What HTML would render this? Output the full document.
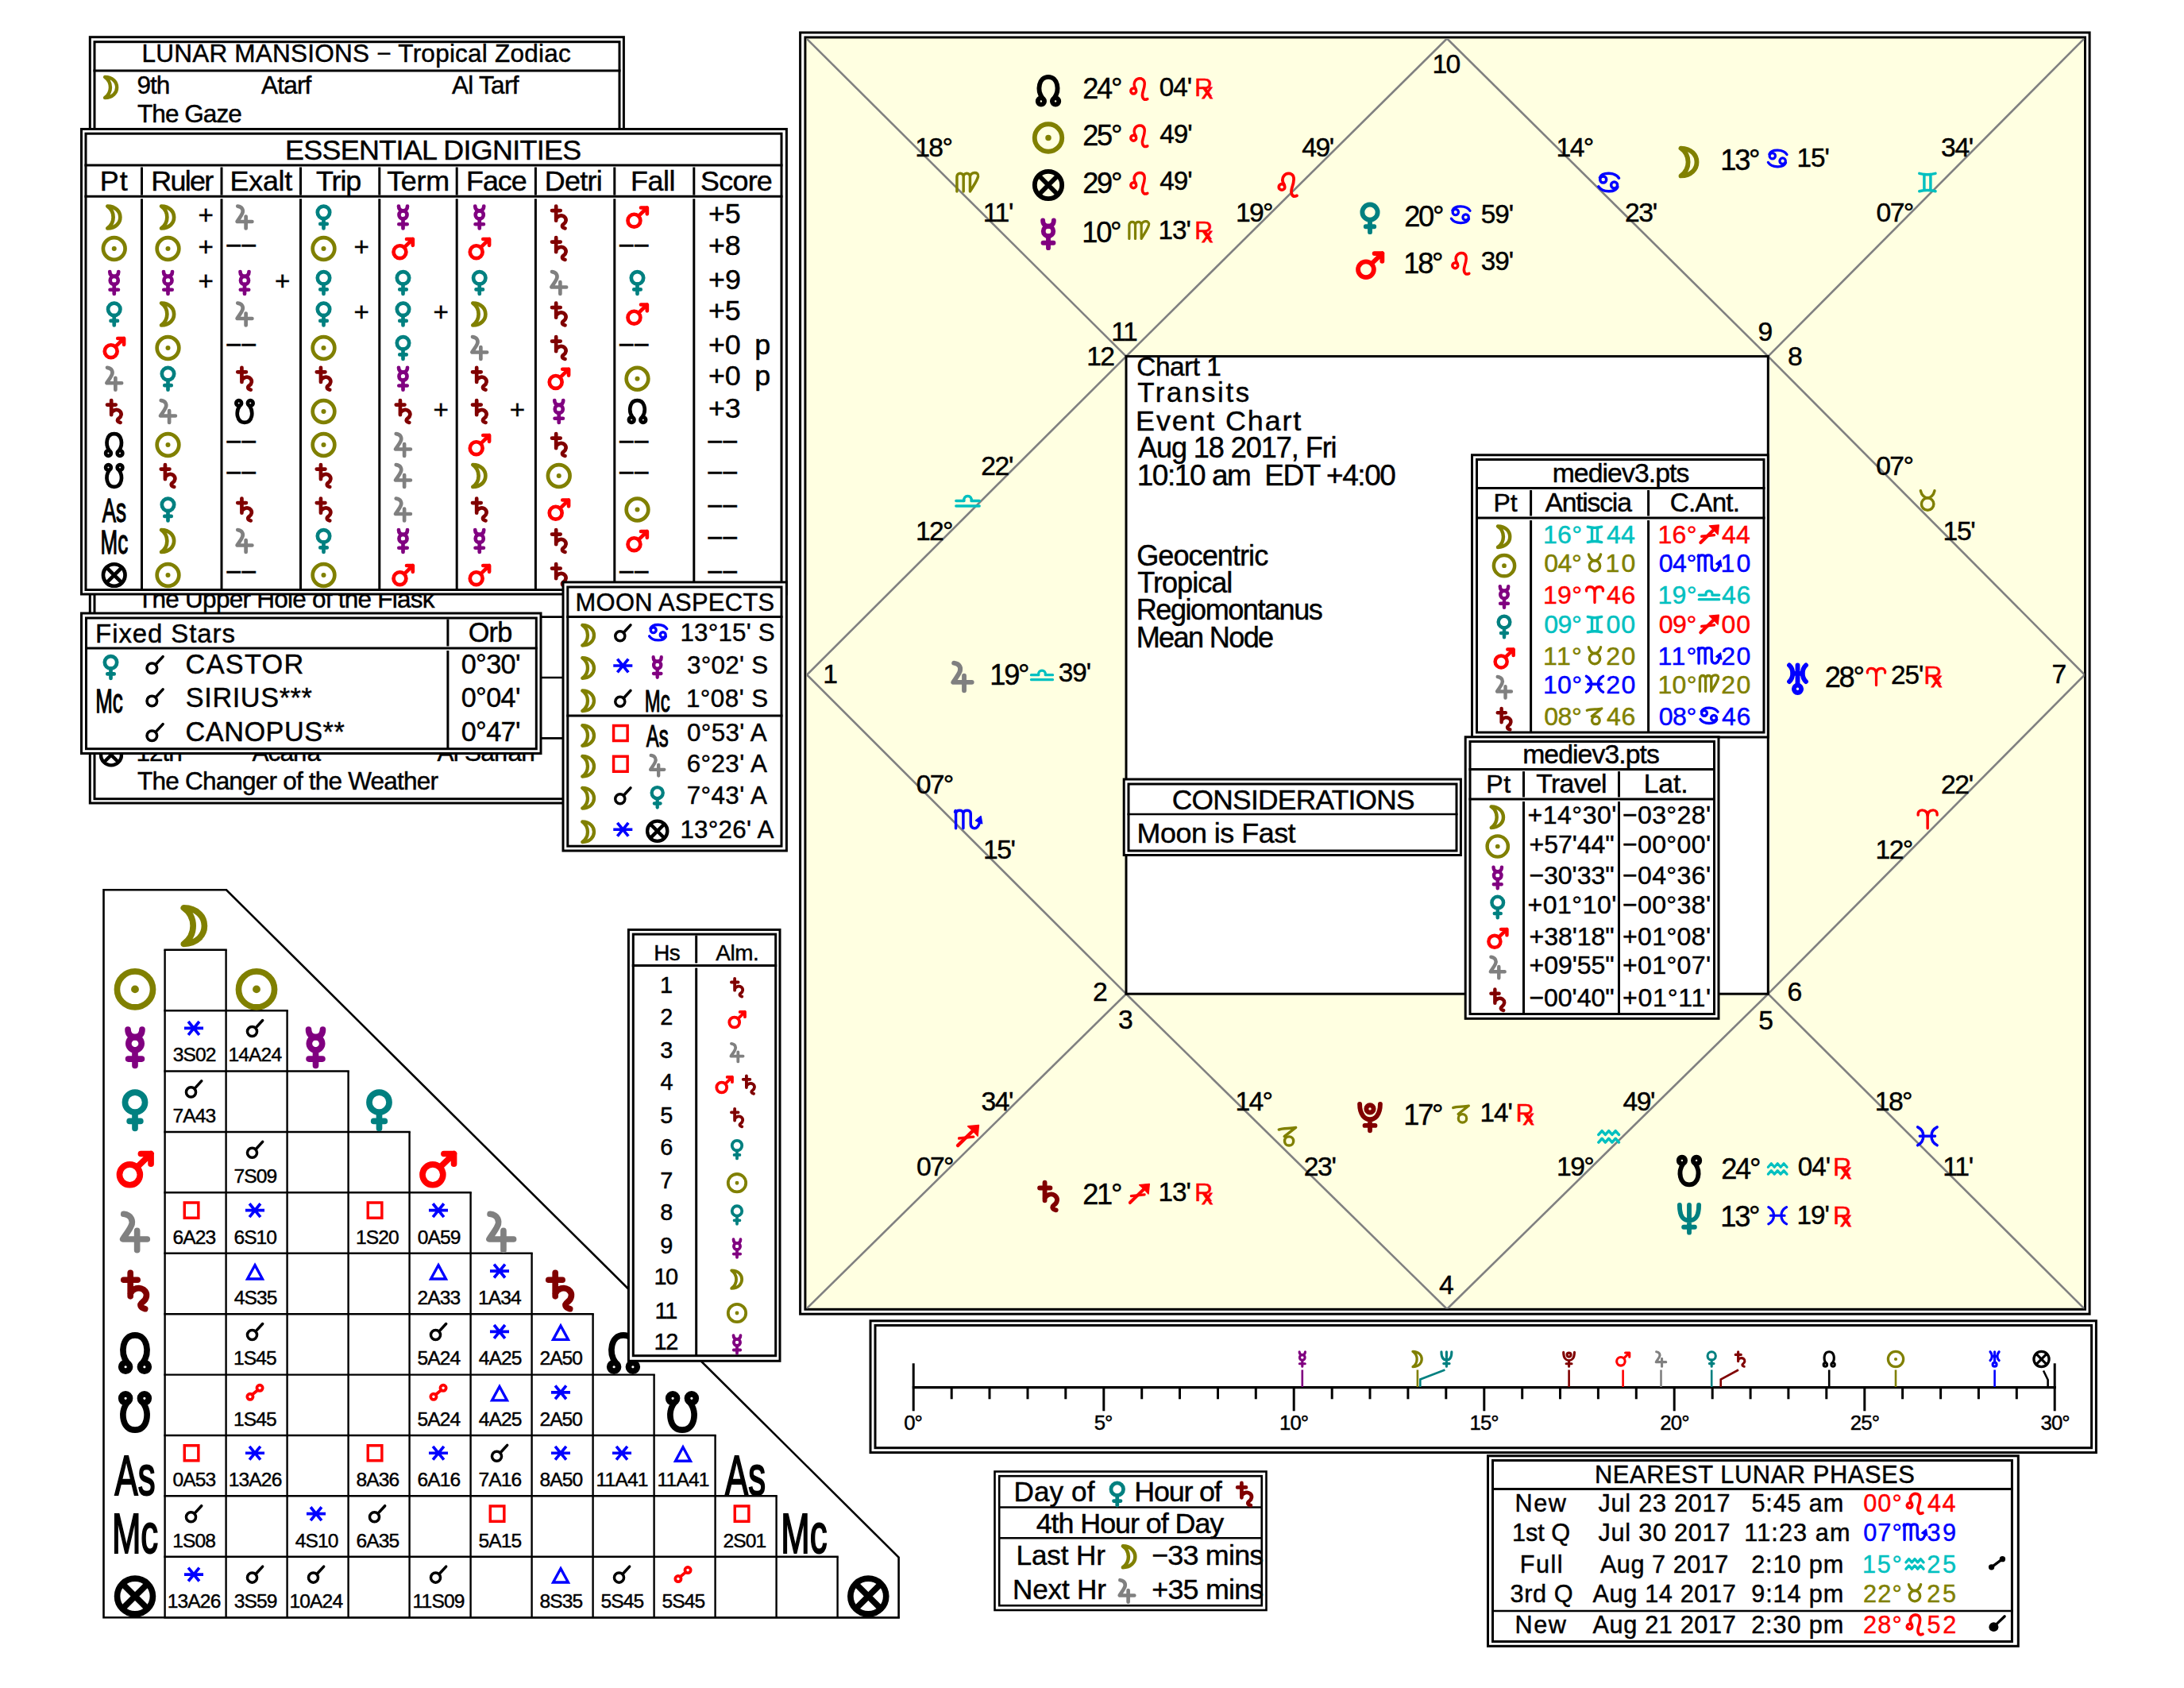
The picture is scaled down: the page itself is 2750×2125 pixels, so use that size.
<!DOCTYPE html>
<html><head><meta charset="utf-8"><title>Chart</title>
<style>html,body{margin:0;padding:0;background:#fff}svg{display:block}text{font-family:"Liberation Sans",Arial,Helvetica,sans-serif;white-space:pre}</style>
</head><body>
<svg xmlns="http://www.w3.org/2000/svg" width="2750" height="2125" viewBox="0 0 2750 2125">
<rect width="2750" height="2125" fill="#fff"/>
<rect x="1007.6" y="41.0" width="1623.5" height="1613.2" fill="#fff" stroke="#000" stroke-width="3"/><rect x="1013.9" y="47.0" width="1611.6" height="1601.3" fill="#ffffe1" stroke="#000" stroke-width="3"/><clipPath id="chartclip"><rect x="1015.4" y="48.5" width="1609.1" height="1599"/></clipPath><g clip-path="url(#chartclip)"><line x1="1015.5" y1="48.5" x2="1418.0" y2="448.6" stroke="#808080" stroke-width="2.6"/><line x1="2624.5" y1="48.5" x2="2226.3" y2="448.6" stroke="#808080" stroke-width="2.6"/><line x1="2624.5" y1="1647.5" x2="2226.3" y2="1251.2" stroke="#808080" stroke-width="2.6"/><line x1="1015.5" y1="1647.5" x2="1418.0" y2="1251.2" stroke="#808080" stroke-width="2.6"/><line x1="1822.0" y1="48.5" x2="1418.0" y2="448.6" stroke="#808080" stroke-width="2.6"/><line x1="1822.0" y1="48.5" x2="2226.3" y2="448.6" stroke="#808080" stroke-width="2.6"/><line x1="2625.0" y1="849.5" x2="2226.3" y2="448.6" stroke="#808080" stroke-width="2.6"/><line x1="2625.0" y1="849.5" x2="2226.3" y2="1251.2" stroke="#808080" stroke-width="2.6"/><line x1="1822.0" y1="1648.0" x2="2226.3" y2="1251.2" stroke="#808080" stroke-width="2.6"/><line x1="1822.0" y1="1648.0" x2="1418.0" y2="1251.2" stroke="#808080" stroke-width="2.6"/><line x1="1016.0" y1="849.5" x2="1418.0" y2="1251.2" stroke="#808080" stroke-width="2.6"/><line x1="1016.0" y1="849.5" x2="1418.0" y2="448.6" stroke="#808080" stroke-width="2.6"/></g><rect x="1418.0" y="448.6" width="808.3" height="802.6" fill="#fff" stroke="#000" stroke-width="3"/><g transform="translate(1218.25 229.55) scale(0.2667)"><path d="M-50 43V-26C-50 -48 -19 -48 -19 -26V43M-19 -26C-19 -48 12 -48 12 -26V43M12 -26C14 -50 54 -52 50 -28C46 -8 28 16 14 40" fill="none" stroke="#808000" stroke-width="13" stroke-linecap="round" stroke-linejoin="round"/></g><text x="1152.2" y="197.2" font-size="33.7" stroke="#000" stroke-width="0.45" letter-spacing="-1.62">18°</text><text x="1237.7" y="279.1" font-size="33.7" stroke="#000" stroke-width="0.45" letter-spacing="-1.30">11'</text><g transform="translate(1621.50 231.35) scale(0.2880)"><path d="M-39.0 14.0a13.0 13.0 0 1 0 26.0 0a13.0 13.0 0 1 0 -26.0 0Z" fill="none" stroke="#ff0000" stroke-width="13" stroke-linecap="round" stroke-linejoin="round"/><path d="M-15 5C-36 -28 -10 -50 12 -44C34 -37 26 -5 19 16C11 40 18 62 40 52" fill="none" stroke="#ff0000" stroke-width="13" stroke-linecap="round" stroke-linejoin="round"/></g><text x="1639.3" y="197.2" font-size="33.7" stroke="#000" stroke-width="0.45" letter-spacing="-1.45">49'</text><text x="1555.9" y="279.1" font-size="33.7" stroke="#000" stroke-width="0.45" letter-spacing="-1.62">19°</text><g transform="translate(2025.65 229.55) scale(0.2667)"><path d="M-41.0 -13.0a15.0 15.0 0 1 0 30.0 0a15.0 15.0 0 1 0 -30.0 0Z" fill="none" stroke="#0000ff" stroke-width="13" stroke-linecap="round" stroke-linejoin="round"/><path d="M11.0 13.0a15.0 15.0 0 1 0 30.0 0a15.0 15.0 0 1 0 -30.0 0Z" fill="none" stroke="#0000ff" stroke-width="13" stroke-linecap="round" stroke-linejoin="round"/><path d="M-42 -22C-30 -50 30 -48 48 -20M42 22C30 50 -30 48 -48 20" fill="none" stroke="#0000ff" stroke-width="13" stroke-linecap="round" stroke-linejoin="round"/></g><text x="1959.6" y="197.2" font-size="33.7" stroke="#000" stroke-width="0.45" letter-spacing="-1.62">14°</text><text x="2046.0" y="279.1" font-size="33.7" stroke="#000" stroke-width="0.45" letter-spacing="-1.42">23'</text><g transform="translate(2426.90 229.55) scale(0.2667)"><path d="M-38 -42C-15 -36 15 -36 38 -42M-38 42C-15 36 15 36 38 42M-15 -38V38M15 -38V38" fill="none" stroke="#00c0c0" stroke-width="13" stroke-linecap="round" stroke-linejoin="round"/></g><text x="2444.1" y="197.2" font-size="33.7" stroke="#000" stroke-width="0.45" letter-spacing="-1.43">34'</text><text x="2362.6" y="279.1" font-size="33.7" stroke="#000" stroke-width="0.45" letter-spacing="-1.67">07°</text><g transform="translate(1218.50 630.05) scale(0.2667)"><path d="M-55 26H55M-55 2H-17C-24 -28 24 -28 17 2H55" fill="none" stroke="#00c0c0" stroke-width="13" stroke-linecap="round" stroke-linejoin="round"/></g><text x="1235.3" y="597.6" font-size="33.7" stroke="#000" stroke-width="0.45" letter-spacing="-1.42">22'</text><text x="1152.9" y="679.6" font-size="33.7" stroke="#000" stroke-width="0.45" letter-spacing="-1.62">12°</text><g transform="translate(1218.50 1031.35) scale(0.2667)"><path d="M-60 -34C-58 -44 -56 -43 -56 -30V43M-56 -28C-54 -46 -21 -46 -21 -28V43M-21 -28C-19 -46 14 -46 14 -28V22C14 42 34 48 46 36C54 27 57 16 58 4" fill="none" stroke="#0000ff" stroke-width="13" stroke-linecap="round" stroke-linejoin="round"/><path d="M62 -14L38 6L68 20Z" fill="#0000ff" stroke="#0000ff" stroke-width="5.9" stroke-linejoin="round"/></g><text x="1153.7" y="998.9" font-size="33.7" stroke="#000" stroke-width="0.45" letter-spacing="-1.67">07°</text><text x="1237.9" y="1081.0" font-size="33.7" stroke="#000" stroke-width="0.45" letter-spacing="-1.39">15'</text><g transform="translate(2427.15 630.05) scale(0.2667)"><path d="M-29.0 17.0a29.0 29.0 0 1 0 58.0 0a29.0 29.0 0 1 0 -58.0 0Z" fill="none" stroke="#808000" stroke-width="13" stroke-linecap="round" stroke-linejoin="round"/><path d="M-33 -46C-28 -24 -13 -12 0 -12C13 -12 28 -24 33 -46" fill="none" stroke="#808000" stroke-width="13" stroke-linecap="round" stroke-linejoin="round"/></g><text x="2362.3" y="597.6" font-size="33.7" stroke="#000" stroke-width="0.45" letter-spacing="-1.67">07°</text><text x="2446.6" y="679.6" font-size="33.7" stroke="#000" stroke-width="0.45" letter-spacing="-1.39">15'</text><g transform="translate(2427.15 1031.35) scale(0.2667)"><path d="M0 43V-12C0 -38 -14 -43 -26 -43C-40 -43 -47 -32 -45 -20M0 -12C0 -38 14 -43 26 -43C40 -43 47 -32 45 -20" fill="none" stroke="#ff0000" stroke-width="13" stroke-linecap="round" stroke-linejoin="round"/></g><text x="2444.0" y="998.9" font-size="33.7" stroke="#000" stroke-width="0.45" letter-spacing="-1.42">22'</text><text x="2361.6" y="1081.0" font-size="33.7" stroke="#000" stroke-width="0.45" letter-spacing="-1.62">12°</text><g transform="translate(1218.25 1430.35) scale(0.2667)"><path d="M-46 44L30 -30" fill="none" stroke="#ff0000" stroke-width="16.2" stroke-linecap="round"/><path d="M-40 10L28 3" fill="none" stroke="#ff0000" stroke-width="13" stroke-linecap="round" stroke-linejoin="round"/><path d="M53 -52L2 -47L26 -25L48 -1Z" fill="#ff0000" stroke="#ff0000" stroke-width="5.9" stroke-linejoin="round"/></g><text x="1235.5" y="1398.0" font-size="33.7" stroke="#000" stroke-width="0.45" letter-spacing="-1.43">34'</text><text x="1153.9" y="1480.0" font-size="33.7" stroke="#000" stroke-width="0.45" letter-spacing="-1.67">07°</text><g transform="translate(1621.50 1430.60) scale(0.2667)"><path d="M-42 -32C-25 -40 15 -36 38 -42L-16 0" fill="none" stroke="#808000" stroke-width="13" stroke-linecap="round" stroke-linejoin="round"/><path d="M-15.0 22.0a21.0 21.0 0 1 0 42.0 0a21.0 21.0 0 1 0 -42.0 0Z" fill="none" stroke="#808000" stroke-width="13" stroke-linecap="round" stroke-linejoin="round"/></g><text x="1555.4" y="1398.2" font-size="33.7" stroke="#000" stroke-width="0.45" letter-spacing="-1.62">14°</text><text x="1641.8" y="1480.2" font-size="33.7" stroke="#000" stroke-width="0.45" letter-spacing="-1.42">23'</text><g transform="translate(2025.65 1430.60) scale(0.2667)"><path d="M-48 -8L-32 -26L-16 -8L0 -26L16 -8L32 -26L48 -8M-48 28L-32 10L-16 28L0 10L16 28L32 10L48 28" fill="none" stroke="#00c0c0" stroke-width="13" stroke-linecap="round" stroke-linejoin="round"/></g><text x="2043.4" y="1398.2" font-size="33.7" stroke="#000" stroke-width="0.45" letter-spacing="-1.45">49'</text><text x="1960.1" y="1480.2" font-size="33.7" stroke="#000" stroke-width="0.45" letter-spacing="-1.62">19°</text><g transform="translate(2426.90 1430.35) scale(0.2667)"><path d="M-46 -43C-10 -25 -10 25 -46 43M46 -43C10 -25 10 25 46 43M-36 0H36" fill="none" stroke="#0000ff" stroke-width="13" stroke-linecap="round" stroke-linejoin="round"/></g><text x="2360.8" y="1398.0" font-size="33.7" stroke="#000" stroke-width="0.45" letter-spacing="-1.62">18°</text><text x="2446.3" y="1480.0" font-size="33.7" stroke="#000" stroke-width="0.45" letter-spacing="-1.30">11'</text><text x="1803.5" y="92.2" font-size="33.7" stroke="#000" stroke-width="0.45" letter-spacing="-1.68">10</text><text x="1399.3" y="428.9" font-size="33.7" stroke="#000" stroke-width="0.45" letter-spacing="-1.54">11</text><text x="1368.2" y="459.7" font-size="33.7" stroke="#000" stroke-width="0.45" letter-spacing="-1.66">12</text><text x="2213.6" y="428.9" font-size="33.7" stroke="#000" stroke-width="0.45">9</text><text x="2250.9" y="459.7" font-size="33.7" stroke="#000" stroke-width="0.45">8</text><text x="1036.2" y="860.2" font-size="33.7" stroke="#000" stroke-width="0.45">1</text><text x="2583.6" y="860.2" font-size="33.7" stroke="#000" stroke-width="0.45">7</text><text x="1376.1" y="1260.2" font-size="33.7" stroke="#000" stroke-width="0.45">2</text><text x="1408.0" y="1295.4" font-size="33.7" stroke="#000" stroke-width="0.45">3</text><text x="1812.0" y="1628.7" font-size="33.7" stroke="#000" stroke-width="0.45">4</text><text x="2214.3" y="1295.9" font-size="33.7" stroke="#000" stroke-width="0.45">5</text><text x="2250.5" y="1259.7" font-size="33.7" stroke="#000" stroke-width="0.45">6</text><g transform="translate(1320.00 114.30) scale(0.4038)"><path d="M-19 22C-36 -2 -30 -43 0 -43C30 -43 36 -2 19 22" fill="none" stroke="#000" stroke-width="14.5" stroke-linecap="round" stroke-linejoin="round"/><path d="M-32.8 32.5a10.3 10.3 0 1 0 20.6 0a10.3 10.3 0 1 0 -20.6 0Z" fill="none" stroke="#000" stroke-width="14.5" stroke-linecap="round" stroke-linejoin="round"/><path d="M12.2 32.5a10.3 10.3 0 1 0 20.6 0a10.3 10.3 0 1 0 -20.6 0Z" fill="none" stroke="#000" stroke-width="14.5" stroke-linecap="round" stroke-linejoin="round"/></g><text x="1363.2" y="124.2" font-size="36.2" stroke="#000" stroke-width="0.45" letter-spacing="-2.21">24°</text><g transform="translate(1434.20 110.76) scale(0.2665)"><path d="M-39.0 14.0a13.0 13.0 0 1 0 26.0 0a13.0 13.0 0 1 0 -26.0 0Z" fill="none" stroke="#ff0000" stroke-width="13" stroke-linecap="round" stroke-linejoin="round"/><path d="M-15 5C-36 -28 -10 -50 12 -44C34 -37 26 -5 19 16C11 40 18 62 40 52" fill="none" stroke="#ff0000" stroke-width="13" stroke-linecap="round" stroke-linejoin="round"/></g><text x="1459.7" y="120.5" font-size="33.26" stroke="#000" stroke-width="0.45" letter-spacing="-1.01">04'</text><text x="1504.1" y="120.5" font-size="32.18" fill="#ff0000" stroke="#ff0000" stroke-width="0.45">R</text><text x="1513.6" y="124.0" font-size="26.63" fill="#ff0000" stroke="#ff0000" stroke-width="1.1">x</text><g transform="translate(1320.00 173.50) scale(0.4038)"><path d="M-42.7 0.0a42.7 42.7 0 1 0 85.4 0a42.7 42.7 0 1 0 -85.4 0Z" fill="none" stroke="#808000" stroke-width="14.5" stroke-linecap="round" stroke-linejoin="round"/><path d="M-9.3 0.0a9.3 9.3 0 1 0 18.6 0a9.3 9.3 0 1 0 -18.6 0Z" fill="#808000"/></g><text x="1363.2" y="183.4" font-size="36.2" stroke="#000" stroke-width="0.45" letter-spacing="-2.21">25°</text><g transform="translate(1434.20 169.96) scale(0.2665)"><path d="M-39.0 14.0a13.0 13.0 0 1 0 26.0 0a13.0 13.0 0 1 0 -26.0 0Z" fill="none" stroke="#ff0000" stroke-width="13" stroke-linecap="round" stroke-linejoin="round"/><path d="M-15 5C-36 -28 -10 -50 12 -44C34 -37 26 -5 19 16C11 40 18 62 40 52" fill="none" stroke="#ff0000" stroke-width="13" stroke-linecap="round" stroke-linejoin="round"/></g><text x="1460.3" y="179.7" font-size="33.26" stroke="#000" stroke-width="0.45" letter-spacing="-1.02">49'</text><g transform="translate(1320.00 233.00) scale(0.4038)"><path d="M-42.5 0.0a42.5 42.5 0 1 0 85.0 0a42.5 42.5 0 1 0 -85.0 0Z" fill="none" stroke="#000" stroke-width="14.5" stroke-linecap="round" stroke-linejoin="round"/><path d="M-29 -29L29 29M29 -29L-29 29" fill="none" stroke="#000" stroke-width="14.5" stroke-linecap="round" stroke-linejoin="round"/></g><text x="1363.2" y="242.9" font-size="36.2" stroke="#000" stroke-width="0.45" letter-spacing="-2.21">29°</text><g transform="translate(1434.20 229.46) scale(0.2665)"><path d="M-39.0 14.0a13.0 13.0 0 1 0 26.0 0a13.0 13.0 0 1 0 -26.0 0Z" fill="none" stroke="#ff0000" stroke-width="13" stroke-linecap="round" stroke-linejoin="round"/><path d="M-15 5C-36 -28 -10 -50 12 -44C34 -37 26 -5 19 16C11 40 18 62 40 52" fill="none" stroke="#ff0000" stroke-width="13" stroke-linecap="round" stroke-linejoin="round"/></g><text x="1460.3" y="239.2" font-size="33.26" stroke="#000" stroke-width="0.45" letter-spacing="-1.02">49'</text><g transform="translate(1320.00 294.80) scale(0.4038)"><path d="M-17 -43C-17 -30 -9 -25 0 -25C9 -25 17 -30 17 -43" fill="none" stroke="#800080" stroke-width="14.5" stroke-linecap="round" stroke-linejoin="round"/><path d="M-15.5 -9.5a15.5 15.5 0 1 0 31.0 0a15.5 15.5 0 1 0 -31.0 0Z" fill="none" stroke="#800080" stroke-width="14.5" stroke-linecap="round" stroke-linejoin="round"/><path d="M0 6V43M-16 27H16" fill="none" stroke="#800080" stroke-width="14.5" stroke-linecap="round" stroke-linejoin="round"/></g><text x="1362.2" y="304.7" font-size="36.2" stroke="#000" stroke-width="0.45" letter-spacing="-2.17">10°</text><g transform="translate(1434.20 289.78) scale(0.2467)"><path d="M-50 43V-26C-50 -48 -19 -48 -19 -26V43M-19 -26C-19 -48 12 -48 12 -26V43M12 -26C14 -50 54 -52 50 -28C46 -8 28 16 14 40" fill="none" stroke="#808000" stroke-width="13" stroke-linecap="round" stroke-linejoin="round"/></g><text x="1458.5" y="301.0" font-size="33.26" stroke="#000" stroke-width="0.45" letter-spacing="-0.98">13'</text><text x="1504.1" y="301.0" font-size="32.18" fill="#ff0000" stroke="#ff0000" stroke-width="0.45">R</text><text x="1513.6" y="304.5" font-size="26.63" fill="#ff0000" stroke="#ff0000" stroke-width="1.1">x</text><g transform="translate(1725.00 274.80) scale(0.4038)"><path d="M-23.8 -19.0a23.8 23.8 0 1 0 47.6 0a23.8 23.8 0 1 0 -47.6 0Z" fill="none" stroke="#008080" stroke-width="14.5" stroke-linecap="round" stroke-linejoin="round"/><path d="M0 5V43M-13 26H13" fill="none" stroke="#008080" stroke-width="14.5" stroke-linecap="round" stroke-linejoin="round"/></g><text x="1768.2" y="284.7" font-size="36.2" stroke="#000" stroke-width="0.45" letter-spacing="-2.21">20°</text><g transform="translate(1839.20 270.27) scale(0.2467)"><path d="M-41.0 -13.0a15.0 15.0 0 1 0 30.0 0a15.0 15.0 0 1 0 -30.0 0Z" fill="none" stroke="#0000ff" stroke-width="13" stroke-linecap="round" stroke-linejoin="round"/><path d="M11.0 13.0a15.0 15.0 0 1 0 30.0 0a15.0 15.0 0 1 0 -30.0 0Z" fill="none" stroke="#0000ff" stroke-width="13" stroke-linecap="round" stroke-linejoin="round"/><path d="M-42 -22C-30 -50 30 -48 48 -20M42 22C30 50 -30 48 -48 20" fill="none" stroke="#0000ff" stroke-width="13" stroke-linecap="round" stroke-linejoin="round"/></g><text x="1864.7" y="281.0" font-size="33.26" stroke="#000" stroke-width="0.45" letter-spacing="-1.01">59'</text><g transform="translate(1725.00 334.00) scale(0.4038)"><path d="M-37.0 13.0a24.5 24.5 0 1 0 49.0 0a24.5 24.5 0 1 0 -49.0 0Z" fill="none" stroke="#ff0000" stroke-width="14.5" stroke-linecap="round" stroke-linejoin="round"/><path d="M5 -5L38 -37M14 -37H38V-13" fill="none" stroke="#ff0000" stroke-width="14.5" stroke-linecap="round" stroke-linejoin="round"/></g><text x="1767.2" y="343.9" font-size="36.2" stroke="#000" stroke-width="0.45" letter-spacing="-2.17">18°</text><g transform="translate(1839.20 330.46) scale(0.2665)"><path d="M-39.0 14.0a13.0 13.0 0 1 0 26.0 0a13.0 13.0 0 1 0 -26.0 0Z" fill="none" stroke="#ff0000" stroke-width="13" stroke-linecap="round" stroke-linejoin="round"/><path d="M-15 5C-36 -28 -10 -50 12 -44C34 -37 26 -5 19 16C11 40 18 62 40 52" fill="none" stroke="#ff0000" stroke-width="13" stroke-linecap="round" stroke-linejoin="round"/></g><text x="1864.7" y="340.2" font-size="33.26" stroke="#000" stroke-width="0.45" letter-spacing="-1.01">39'</text><g transform="translate(2127.00 204.00) scale(0.4038)"><path d="M-26 -43C40 -42 40 42 -26 43C4 22 4 -22 -26 -43Z" fill="none" stroke="#808000" stroke-width="14.5" stroke-linecap="round" stroke-linejoin="round"/></g><text x="2166.2" y="213.9" font-size="36.2" stroke="#000" stroke-width="0.45" letter-spacing="-2.17">13°</text><g transform="translate(2238.20 199.47) scale(0.2467)"><path d="M-41.0 -13.0a15.0 15.0 0 1 0 30.0 0a15.0 15.0 0 1 0 -30.0 0Z" fill="none" stroke="#0000ff" stroke-width="13" stroke-linecap="round" stroke-linejoin="round"/><path d="M11.0 13.0a15.0 15.0 0 1 0 30.0 0a15.0 15.0 0 1 0 -30.0 0Z" fill="none" stroke="#0000ff" stroke-width="13" stroke-linecap="round" stroke-linejoin="round"/><path d="M-42 -22C-30 -50 30 -48 48 -20M42 22C30 50 -30 48 -48 20" fill="none" stroke="#0000ff" stroke-width="13" stroke-linecap="round" stroke-linejoin="round"/></g><text x="2262.5" y="210.2" font-size="33.26" stroke="#000" stroke-width="0.45" letter-spacing="-0.98">15'</text><g transform="translate(1212.00 852.00) scale(0.4038)"><path d="M-27 -43C-8 -41 -4 -26 -9 -15C-14 -3 -24 8 -29 17H29M5 -3V43" fill="none" stroke="#808080" stroke-width="14.5" stroke-linecap="round" stroke-linejoin="round"/></g><text x="1246.2" y="861.9" font-size="36.2" stroke="#000" stroke-width="0.45" letter-spacing="-2.17">19°</text><g transform="translate(1312.00 849.20) scale(0.2467)"><path d="M-55 26H55M-55 2H-17C-24 -28 24 -28 17 2H55" fill="none" stroke="#00c0c0" stroke-width="13" stroke-linecap="round" stroke-linejoin="round"/></g><text x="1332.7" y="858.2" font-size="33.26" stroke="#000" stroke-width="0.45" letter-spacing="-1.01">39'</text><g transform="translate(2263.50 854.80) scale(0.4038)"><path d="M-26 -43C-12 -30 -12 -5 -26 8M26 -43C12 -30 12 -5 26 8M-16 -17H16M0 -43V18" fill="none" stroke="#0000ff" stroke-width="14.5" stroke-linecap="round" stroke-linejoin="round"/><path d="M-11.5 31.0a11.5 11.5 0 1 0 23.0 0a11.5 11.5 0 1 0 -23.0 0Z" fill="none" stroke="#0000ff" stroke-width="14.5" stroke-linecap="round" stroke-linejoin="round"/></g><text x="2297.7" y="864.7" font-size="36.2" stroke="#000" stroke-width="0.45" letter-spacing="-2.21">28°</text><g transform="translate(2362.50 852.00) scale(0.2467)"><path d="M0 43V-12C0 -38 -14 -43 -26 -43C-40 -43 -47 -32 -45 -20M0 -12C0 -38 14 -43 26 -43C40 -43 47 -32 45 -20" fill="none" stroke="#ff0000" stroke-width="13" stroke-linecap="round" stroke-linejoin="round"/></g><text x="2381.0" y="861.0" font-size="33.26" stroke="#000" stroke-width="0.45" letter-spacing="-1.00">25'</text><text x="2422.2" y="861.0" font-size="32.18" fill="#ff0000" stroke="#ff0000" stroke-width="0.45">R</text><text x="2431.7" y="864.5" font-size="26.63" fill="#ff0000" stroke="#ff0000" stroke-width="1.1">x</text><g transform="translate(1320.00 1506.00) scale(0.4038)"><path d="M-11 -43V13M-27 -26H6M-11 6C-5 -6 10 -10 20 -3C32 6 28 20 18 27C10 33 12 40 24 43" fill="none" stroke="#800000" stroke-width="14.5" stroke-linecap="round" stroke-linejoin="round"/></g><text x="1363.2" y="1515.9" font-size="36.2" stroke="#000" stroke-width="0.45" letter-spacing="-2.21">21°</text><g transform="translate(1434.20 1503.20) scale(0.2467)"><path d="M-46 44L30 -30" fill="none" stroke="#ff0000" stroke-width="16.2" stroke-linecap="round"/><path d="M-40 10L28 3" fill="none" stroke="#ff0000" stroke-width="13" stroke-linecap="round" stroke-linejoin="round"/><path d="M53 -52L2 -47L26 -25L48 -1Z" fill="#ff0000" stroke="#ff0000" stroke-width="5.9" stroke-linejoin="round"/></g><text x="1458.5" y="1512.2" font-size="33.26" stroke="#000" stroke-width="0.45" letter-spacing="-0.98">13'</text><text x="1504.1" y="1512.2" font-size="32.18" fill="#ff0000" stroke="#ff0000" stroke-width="0.45">R</text><text x="1513.6" y="1515.7" font-size="26.63" fill="#ff0000" stroke="#ff0000" stroke-width="1.1">x</text><g transform="translate(1725.00 1406.00) scale(0.4038)"><path d="M-32 -40C-32 -5 -15 8 0 8C15 8 32 -5 32 -40M0 8V43M-16 27H16" fill="none" stroke="#800000" stroke-width="14.5" stroke-linecap="round" stroke-linejoin="round"/><path d="M-11.5 -25.0a11.5 11.5 0 1 0 23.0 0a11.5 11.5 0 1 0 -23.0 0Z" fill="none" stroke="#800000" stroke-width="14.5" stroke-linecap="round" stroke-linejoin="round"/></g><text x="1767.2" y="1415.9" font-size="36.2" stroke="#000" stroke-width="0.45" letter-spacing="-2.17">17°</text><g transform="translate(1840.00 1402.46) scale(0.2467)"><path d="M-42 -32C-25 -40 15 -36 38 -42L-16 0" fill="none" stroke="#808000" stroke-width="13" stroke-linecap="round" stroke-linejoin="round"/><path d="M-15.0 22.0a21.0 21.0 0 1 0 42.0 0a21.0 21.0 0 1 0 -42.0 0Z" fill="none" stroke="#808000" stroke-width="13" stroke-linecap="round" stroke-linejoin="round"/></g><text x="1863.5" y="1412.2" font-size="33.26" stroke="#000" stroke-width="0.45" letter-spacing="-0.98">14'</text><text x="1908.4" y="1412.2" font-size="32.18" fill="#ff0000" stroke="#ff0000" stroke-width="0.45">R</text><text x="1917.9" y="1415.7" font-size="26.63" fill="#ff0000" stroke="#ff0000" stroke-width="1.1">x</text><g transform="translate(2127.00 1474.00) scale(0.4038)"><path d="M-19 -22C-36 2 -30 43 0 43C30 43 36 2 19 -22" fill="none" stroke="#000" stroke-width="14.5" stroke-linecap="round" stroke-linejoin="round"/><path d="M-32.8 -32.5a10.3 10.3 0 1 0 20.6 0a10.3 10.3 0 1 0 -20.6 0Z" fill="none" stroke="#000" stroke-width="14.5" stroke-linecap="round" stroke-linejoin="round"/><path d="M12.2 -32.5a10.3 10.3 0 1 0 20.6 0a10.3 10.3 0 1 0 -20.6 0Z" fill="none" stroke="#000" stroke-width="14.5" stroke-linecap="round" stroke-linejoin="round"/></g><text x="2167.2" y="1483.9" font-size="36.2" stroke="#000" stroke-width="0.45" letter-spacing="-2.21">24°</text><g transform="translate(2238.20 1471.20) scale(0.2467)"><path d="M-48 -8L-32 -26L-16 -8L0 -26L16 -8L32 -26L48 -8M-48 28L-32 10L-16 28L0 10L16 28L32 10L48 28" fill="none" stroke="#00c0c0" stroke-width="13" stroke-linecap="round" stroke-linejoin="round"/></g><text x="2263.7" y="1480.2" font-size="33.26" stroke="#000" stroke-width="0.45" letter-spacing="-1.01">04'</text><text x="2308.1" y="1480.2" font-size="32.18" fill="#ff0000" stroke="#ff0000" stroke-width="0.45">R</text><text x="2317.6" y="1483.7" font-size="26.63" fill="#ff0000" stroke="#ff0000" stroke-width="1.1">x</text><g transform="translate(2127.00 1534.30) scale(0.4038)"><path d="M-30 -43C-30 -5 -18 5 0 5C18 5 30 -5 30 -43M0 -43V43M-17 26H17" fill="none" stroke="#008080" stroke-width="14.5" stroke-linecap="round" stroke-linejoin="round"/></g><text x="2166.2" y="1544.2" font-size="36.2" stroke="#000" stroke-width="0.45" letter-spacing="-2.17">13°</text><g transform="translate(2238.20 1530.27) scale(0.2467)"><path d="M-46 -43C-10 -25 -10 25 -46 43M46 -43C10 -25 10 25 46 43M-36 0H36" fill="none" stroke="#0000ff" stroke-width="13" stroke-linecap="round" stroke-linejoin="round"/></g><text x="2262.5" y="1540.5" font-size="33.26" stroke="#000" stroke-width="0.45" letter-spacing="-0.98">19'</text><text x="2308.1" y="1540.5" font-size="32.18" fill="#ff0000" stroke="#ff0000" stroke-width="0.45">R</text><text x="2317.6" y="1544.0" font-size="26.63" fill="#ff0000" stroke="#ff0000" stroke-width="1.1">x</text><text x="1431.3" y="472.9" font-size="33.37" stroke="#000" stroke-width="0.45" letter-spacing="-0.47">Chart 1</text><text x="1432.2" y="506.4" font-size="34.78" stroke="#000" stroke-width="0.45" letter-spacing="2.66">Transits</text><text x="1430.1" y="542.2" font-size="35.87" stroke="#000" stroke-width="0.45" letter-spacing="1.88">Event Chart</text><text x="1432.9" y="576.4" font-size="36.09" stroke="#000" stroke-width="0.45" letter-spacing="-1.07">Aug 18 2017, Fri</text><text x="1431.7" y="610.9" font-size="36.96" stroke="#000" stroke-width="0.45" letter-spacing="-1.41">10:10 am  EDT +4:00</text><text x="1431.2" y="712.2" font-size="36.09" stroke="#000" stroke-width="0.45" letter-spacing="-0.94">Geocentric</text><text x="1432.2" y="746.4" font-size="36.09" stroke="#000" stroke-width="0.45" letter-spacing="-0.97">Tropical</text><text x="1430.7" y="780.4" font-size="36.09" stroke="#000" stroke-width="0.45" letter-spacing="-1.46">Regiomontanus</text><text x="1430.7" y="814.7" font-size="36.09" stroke="#000" stroke-width="0.45" letter-spacing="-1.63">Mean Node</text><rect x="113.3" y="46.7" width="672.1" height="964.3" fill="#fff" stroke="#000" stroke-width="3"/><rect x="119.0" y="52.7" width="661.0" height="953.0" fill="none" stroke="#000" stroke-width="3"/><text x="178.4" y="77.8" font-size="31.52" stroke="#000" stroke-width="0.45" letter-spacing="0.23">LUNAR MANSIONS − Tropical Zodiac</text><line x1="117.5" y1="89.0" x2="781.5" y2="89.0" stroke="#000" stroke-width="3"/><line x1="117.5" y1="165.4" x2="781.5" y2="165.4" stroke="#000" stroke-width="2.6"/><line x1="117.5" y1="241.8" x2="781.5" y2="241.8" stroke="#000" stroke-width="2.6"/><line x1="117.5" y1="318.2" x2="781.5" y2="318.2" stroke="#000" stroke-width="2.6"/><line x1="117.5" y1="394.6" x2="781.5" y2="394.6" stroke="#000" stroke-width="2.6"/><line x1="117.5" y1="471.0" x2="781.5" y2="471.0" stroke="#000" stroke-width="2.6"/><line x1="117.5" y1="547.4" x2="781.5" y2="547.4" stroke="#000" stroke-width="2.6"/><line x1="117.5" y1="623.8" x2="781.5" y2="623.8" stroke="#000" stroke-width="2.6"/><line x1="117.5" y1="700.2" x2="781.5" y2="700.2" stroke="#000" stroke-width="2.6"/><line x1="117.5" y1="776.6" x2="781.5" y2="776.6" stroke="#000" stroke-width="2.6"/><line x1="117.5" y1="853.0" x2="781.5" y2="853.0" stroke="#000" stroke-width="2.6"/><line x1="117.5" y1="929.4" x2="781.5" y2="929.4" stroke="#000" stroke-width="2.6"/><g transform="translate(140.00 110.00) scale(0.3044)"><path d="M-26 -43C40 -42 40 42 -26 43C4 22 4 -22 -26 -43Z" fill="none" stroke="#808000" stroke-width="14.5" stroke-linecap="round" stroke-linejoin="round"/></g><text x="172.4" y="117.7" font-size="31.52" stroke="#000" stroke-width="0.45" letter-spacing="-1.01">9th</text><text x="329.1" y="117.7" font-size="31.52" stroke="#000" stroke-width="0.45" letter-spacing="-0.83">Atarf</text><text x="569.1" y="117.7" font-size="31.52" stroke="#000" stroke-width="0.45" letter-spacing="-0.74">Al Tarf</text><text x="173.1" y="153.5" font-size="31.52" stroke="#000" stroke-width="0.45" letter-spacing="-0.97">The Gaze</text><text x="172.2" y="728.9" font-size="31.52" stroke="#000" stroke-width="0.45" letter-spacing="-0.96">26th</text><text x="310.1" y="728.9" font-size="31.52" stroke="#000" stroke-width="0.45" letter-spacing="-0.89">Alpharg</text><text x="483.3" y="728.9" font-size="31.52" stroke="#000" stroke-width="0.45" letter-spacing="-0.79">Al Fargh al Mukdim</text><text x="173.1" y="764.7" font-size="31.52" stroke="#000" stroke-width="0.45" letter-spacing="-0.76">The Upper Hole of the Flask</text><g transform="translate(140.00 950.40) scale(0.3044)"><path d="M-42.5 0.0a42.5 42.5 0 1 0 85.0 0a42.5 42.5 0 1 0 -85.0 0Z" fill="none" stroke="#000" stroke-width="14.5" stroke-linecap="round" stroke-linejoin="round"/><path d="M-29 -29L29 29M29 -29L-29 29" fill="none" stroke="#000" stroke-width="14.5" stroke-linecap="round" stroke-linejoin="round"/></g><text x="171.4" y="958.1" font-size="31.52" stroke="#000" stroke-width="0.45" letter-spacing="-0.95">12th</text><text x="317.5" y="958.1" font-size="31.52" stroke="#000" stroke-width="0.45" letter-spacing="-0.91">Acarfa</text><text x="550.6" y="958.1" font-size="31.52" stroke="#000" stroke-width="0.45" letter-spacing="-0.80">Al Sarfah</text><text x="173.1" y="993.9" font-size="31.52" stroke="#000" stroke-width="0.45" letter-spacing="-0.80">The Changer of the Weather</text><rect x="102.5" y="162.5" width="887.9" height="585.5" fill="#fff" stroke="#000" stroke-width="3"/><rect x="108.0" y="168.2" width="876.0" height="574.3" fill="none" stroke="#000" stroke-width="3"/><text x="359.1" y="200.9" font-size="35.87" stroke="#000" stroke-width="0.45" letter-spacing="-0.68">ESSENTIAL DIGNITIES</text><line x1="106.5" y1="207.9" x2="985.5" y2="207.9" stroke="#000" stroke-width="3"/><line x1="106.5" y1="247.2" x2="985.5" y2="247.2" stroke="#000" stroke-width="3"/><line x1="178.5" y1="210.5" x2="178.5" y2="245.6" stroke="#000" stroke-width="3"/><line x1="178.5" y1="250.3" x2="178.5" y2="742.5" stroke="#000" stroke-width="3"/><line x1="279.0" y1="210.5" x2="279.0" y2="245.6" stroke="#000" stroke-width="3"/><line x1="279.0" y1="250.3" x2="279.0" y2="742.5" stroke="#000" stroke-width="3"/><line x1="378.5" y1="210.5" x2="378.5" y2="245.6" stroke="#000" stroke-width="3"/><line x1="378.5" y1="250.3" x2="378.5" y2="742.5" stroke="#000" stroke-width="3"/><line x1="477.8" y1="210.5" x2="477.8" y2="245.6" stroke="#000" stroke-width="3"/><line x1="477.8" y1="250.3" x2="477.8" y2="742.5" stroke="#000" stroke-width="3"/><line x1="575.2" y1="210.5" x2="575.2" y2="245.6" stroke="#000" stroke-width="3"/><line x1="575.2" y1="250.3" x2="575.2" y2="742.5" stroke="#000" stroke-width="3"/><line x1="674.4" y1="210.5" x2="674.4" y2="245.6" stroke="#000" stroke-width="3"/><line x1="674.4" y1="250.3" x2="674.4" y2="742.5" stroke="#000" stroke-width="3"/><line x1="773.8" y1="210.5" x2="773.8" y2="245.6" stroke="#000" stroke-width="3"/><line x1="773.8" y1="250.3" x2="773.8" y2="742.5" stroke="#000" stroke-width="3"/><line x1="873.8" y1="210.5" x2="873.8" y2="245.6" stroke="#000" stroke-width="3"/><line x1="873.8" y1="250.3" x2="873.8" y2="742.5" stroke="#000" stroke-width="3"/><text x="125.8" y="240.2" font-size="35.87" stroke="#000" stroke-width="0.45" letter-spacing="1.05">Pt</text><text x="190.3" y="240.2" font-size="35.87" stroke="#000" stroke-width="0.45" letter-spacing="-1.68">Ruler</text><text x="289.6" y="240.2" font-size="35.87" stroke="#000" stroke-width="0.45" letter-spacing="-0.26">Exalt</text><text x="398.0" y="240.2" font-size="35.87" stroke="#000" stroke-width="0.45" letter-spacing="-1.06">Trip</text><text x="487.2" y="240.2" font-size="35.87" stroke="#000" stroke-width="0.45" letter-spacing="-0.28">Term</text><text x="587.1" y="240.2" font-size="35.87" stroke="#000" stroke-width="0.45" letter-spacing="-1.07">Face</text><text x="685.8" y="240.2" font-size="35.87" stroke="#000" stroke-width="0.45" letter-spacing="-0.72">Detri</text><text x="794.1" y="240.2" font-size="35.87" stroke="#000" stroke-width="0.45" letter-spacing="-0.49">Fall</text><text x="882.1" y="240.2" font-size="35.87" stroke="#000" stroke-width="0.45" letter-spacing="-0.75">Score</text><g transform="translate(143.75 273.50) scale(0.3239)"><path d="M-26 -43C40 -42 40 42 -26 43C4 22 4 -22 -26 -43Z" fill="none" stroke="#808000" stroke-width="14.5" stroke-linecap="round" stroke-linejoin="round"/></g><g transform="translate(211.50 273.50) scale(0.3239)"><path d="M-26 -43C40 -42 40 42 -26 43C4 22 4 -22 -26 -43Z" fill="none" stroke="#808000" stroke-width="14.5" stroke-linecap="round" stroke-linejoin="round"/></g><text x="249.5" y="282.1" font-size="33.15" stroke="#000" stroke-width="0.45">+</text><g transform="translate(308.00 273.50) scale(0.3239)"><path d="M-27 -43C-8 -41 -4 -26 -9 -15C-14 -3 -24 8 -29 17H29M5 -3V43" fill="none" stroke="#808080" stroke-width="14.5" stroke-linecap="round" stroke-linejoin="round"/></g><g transform="translate(407.50 273.50) scale(0.3239)"><path d="M-23.8 -19.0a23.8 23.8 0 1 0 47.6 0a23.8 23.8 0 1 0 -47.6 0Z" fill="none" stroke="#008080" stroke-width="14.5" stroke-linecap="round" stroke-linejoin="round"/><path d="M0 5V43M-13 26H13" fill="none" stroke="#008080" stroke-width="14.5" stroke-linecap="round" stroke-linejoin="round"/></g><g transform="translate(507.50 273.50) scale(0.3239)"><path d="M-17 -43C-17 -30 -9 -25 0 -25C9 -25 17 -30 17 -43" fill="none" stroke="#800080" stroke-width="14.5" stroke-linecap="round" stroke-linejoin="round"/><path d="M-15.5 -9.5a15.5 15.5 0 1 0 31.0 0a15.5 15.5 0 1 0 -31.0 0Z" fill="none" stroke="#800080" stroke-width="14.5" stroke-linecap="round" stroke-linejoin="round"/><path d="M0 6V43M-16 27H16" fill="none" stroke="#800080" stroke-width="14.5" stroke-linecap="round" stroke-linejoin="round"/></g><g transform="translate(603.75 273.50) scale(0.3239)"><path d="M-17 -43C-17 -30 -9 -25 0 -25C9 -25 17 -30 17 -43" fill="none" stroke="#800080" stroke-width="14.5" stroke-linecap="round" stroke-linejoin="round"/><path d="M-15.5 -9.5a15.5 15.5 0 1 0 31.0 0a15.5 15.5 0 1 0 -31.0 0Z" fill="none" stroke="#800080" stroke-width="14.5" stroke-linecap="round" stroke-linejoin="round"/><path d="M0 6V43M-16 27H16" fill="none" stroke="#800080" stroke-width="14.5" stroke-linecap="round" stroke-linejoin="round"/></g><g transform="translate(703.75 273.50) scale(0.3239)"><path d="M-11 -43V13M-27 -26H6M-11 6C-5 -6 10 -10 20 -3C32 6 28 20 18 27C10 33 12 40 24 43" fill="none" stroke="#800000" stroke-width="14.5" stroke-linecap="round" stroke-linejoin="round"/></g><g transform="translate(802.50 273.50) scale(0.3239)"><path d="M-37.0 13.0a24.5 24.5 0 1 0 49.0 0a24.5 24.5 0 1 0 -49.0 0Z" fill="none" stroke="#ff0000" stroke-width="14.5" stroke-linecap="round" stroke-linejoin="round"/><path d="M5 -5L38 -37M14 -37H38V-13" fill="none" stroke="#ff0000" stroke-width="14.5" stroke-linecap="round" stroke-linejoin="round"/></g><text x="892.0" y="281.4" font-size="35.87" stroke="#000" stroke-width="0.45" letter-spacing="-0.20">+5</text><g transform="translate(143.75 313.00) scale(0.3239)"><path d="M-42.7 0.0a42.7 42.7 0 1 0 85.4 0a42.7 42.7 0 1 0 -85.4 0Z" fill="none" stroke="#808000" stroke-width="14.5" stroke-linecap="round" stroke-linejoin="round"/><path d="M-9.3 0.0a9.3 9.3 0 1 0 18.6 0a9.3 9.3 0 1 0 -18.6 0Z" fill="#808000"/></g><g transform="translate(211.50 313.00) scale(0.3239)"><path d="M-42.7 0.0a42.7 42.7 0 1 0 85.4 0a42.7 42.7 0 1 0 -85.4 0Z" fill="none" stroke="#808000" stroke-width="14.5" stroke-linecap="round" stroke-linejoin="round"/><path d="M-9.3 0.0a9.3 9.3 0 1 0 18.6 0a9.3 9.3 0 1 0 -18.6 0Z" fill="#808000"/></g><text x="249.5" y="321.6" font-size="33.15" stroke="#000" stroke-width="0.45">+</text><text x="283.7" y="320.9" font-size="35.87" stroke="#000" stroke-width="0.45" letter-spacing="-1.92">−−</text><g transform="translate(407.50 313.00) scale(0.3239)"><path d="M-42.7 0.0a42.7 42.7 0 1 0 85.4 0a42.7 42.7 0 1 0 -85.4 0Z" fill="none" stroke="#808000" stroke-width="14.5" stroke-linecap="round" stroke-linejoin="round"/><path d="M-9.3 0.0a9.3 9.3 0 1 0 18.6 0a9.3 9.3 0 1 0 -18.6 0Z" fill="#808000"/></g><text x="445.5" y="321.6" font-size="33.15" stroke="#000" stroke-width="0.45">+</text><g transform="translate(507.50 313.00) scale(0.3239)"><path d="M-37.0 13.0a24.5 24.5 0 1 0 49.0 0a24.5 24.5 0 1 0 -49.0 0Z" fill="none" stroke="#ff0000" stroke-width="14.5" stroke-linecap="round" stroke-linejoin="round"/><path d="M5 -5L38 -37M14 -37H38V-13" fill="none" stroke="#ff0000" stroke-width="14.5" stroke-linecap="round" stroke-linejoin="round"/></g><g transform="translate(603.75 313.00) scale(0.3239)"><path d="M-37.0 13.0a24.5 24.5 0 1 0 49.0 0a24.5 24.5 0 1 0 -49.0 0Z" fill="none" stroke="#ff0000" stroke-width="14.5" stroke-linecap="round" stroke-linejoin="round"/><path d="M5 -5L38 -37M14 -37H38V-13" fill="none" stroke="#ff0000" stroke-width="14.5" stroke-linecap="round" stroke-linejoin="round"/></g><g transform="translate(703.75 313.00) scale(0.3239)"><path d="M-11 -43V13M-27 -26H6M-11 6C-5 -6 10 -10 20 -3C32 6 28 20 18 27C10 33 12 40 24 43" fill="none" stroke="#800000" stroke-width="14.5" stroke-linecap="round" stroke-linejoin="round"/></g><text x="778.2" y="320.9" font-size="35.87" stroke="#000" stroke-width="0.45" letter-spacing="-1.92">−−</text><text x="892.0" y="320.9" font-size="35.87" stroke="#000" stroke-width="0.45" letter-spacing="-0.13">+8</text><g transform="translate(143.75 356.00) scale(0.3239)"><path d="M-17 -43C-17 -30 -9 -25 0 -25C9 -25 17 -30 17 -43" fill="none" stroke="#800080" stroke-width="14.5" stroke-linecap="round" stroke-linejoin="round"/><path d="M-15.5 -9.5a15.5 15.5 0 1 0 31.0 0a15.5 15.5 0 1 0 -31.0 0Z" fill="none" stroke="#800080" stroke-width="14.5" stroke-linecap="round" stroke-linejoin="round"/><path d="M0 6V43M-16 27H16" fill="none" stroke="#800080" stroke-width="14.5" stroke-linecap="round" stroke-linejoin="round"/></g><g transform="translate(211.50 356.00) scale(0.3239)"><path d="M-17 -43C-17 -30 -9 -25 0 -25C9 -25 17 -30 17 -43" fill="none" stroke="#800080" stroke-width="14.5" stroke-linecap="round" stroke-linejoin="round"/><path d="M-15.5 -9.5a15.5 15.5 0 1 0 31.0 0a15.5 15.5 0 1 0 -31.0 0Z" fill="none" stroke="#800080" stroke-width="14.5" stroke-linecap="round" stroke-linejoin="round"/><path d="M0 6V43M-16 27H16" fill="none" stroke="#800080" stroke-width="14.5" stroke-linecap="round" stroke-linejoin="round"/></g><text x="249.5" y="364.6" font-size="33.15" stroke="#000" stroke-width="0.45">+</text><g transform="translate(308.00 356.00) scale(0.3239)"><path d="M-17 -43C-17 -30 -9 -25 0 -25C9 -25 17 -30 17 -43" fill="none" stroke="#800080" stroke-width="14.5" stroke-linecap="round" stroke-linejoin="round"/><path d="M-15.5 -9.5a15.5 15.5 0 1 0 31.0 0a15.5 15.5 0 1 0 -31.0 0Z" fill="none" stroke="#800080" stroke-width="14.5" stroke-linecap="round" stroke-linejoin="round"/><path d="M0 6V43M-16 27H16" fill="none" stroke="#800080" stroke-width="14.5" stroke-linecap="round" stroke-linejoin="round"/></g><text x="346.0" y="364.6" font-size="33.15" stroke="#000" stroke-width="0.45">+</text><g transform="translate(407.50 356.00) scale(0.3239)"><path d="M-23.8 -19.0a23.8 23.8 0 1 0 47.6 0a23.8 23.8 0 1 0 -47.6 0Z" fill="none" stroke="#008080" stroke-width="14.5" stroke-linecap="round" stroke-linejoin="round"/><path d="M0 5V43M-13 26H13" fill="none" stroke="#008080" stroke-width="14.5" stroke-linecap="round" stroke-linejoin="round"/></g><g transform="translate(507.50 356.00) scale(0.3239)"><path d="M-23.8 -19.0a23.8 23.8 0 1 0 47.6 0a23.8 23.8 0 1 0 -47.6 0Z" fill="none" stroke="#008080" stroke-width="14.5" stroke-linecap="round" stroke-linejoin="round"/><path d="M0 5V43M-13 26H13" fill="none" stroke="#008080" stroke-width="14.5" stroke-linecap="round" stroke-linejoin="round"/></g><g transform="translate(603.75 356.00) scale(0.3239)"><path d="M-23.8 -19.0a23.8 23.8 0 1 0 47.6 0a23.8 23.8 0 1 0 -47.6 0Z" fill="none" stroke="#008080" stroke-width="14.5" stroke-linecap="round" stroke-linejoin="round"/><path d="M0 5V43M-13 26H13" fill="none" stroke="#008080" stroke-width="14.5" stroke-linecap="round" stroke-linejoin="round"/></g><g transform="translate(703.75 356.00) scale(0.3239)"><path d="M-27 -43C-8 -41 -4 -26 -9 -15C-14 -3 -24 8 -29 17H29M5 -3V43" fill="none" stroke="#808080" stroke-width="14.5" stroke-linecap="round" stroke-linejoin="round"/></g><g transform="translate(802.50 356.00) scale(0.3239)"><path d="M-23.8 -19.0a23.8 23.8 0 1 0 47.6 0a23.8 23.8 0 1 0 -47.6 0Z" fill="none" stroke="#008080" stroke-width="14.5" stroke-linecap="round" stroke-linejoin="round"/><path d="M0 5V43M-13 26H13" fill="none" stroke="#008080" stroke-width="14.5" stroke-linecap="round" stroke-linejoin="round"/></g><text x="892.0" y="363.9" font-size="35.87" stroke="#000" stroke-width="0.45" letter-spacing="0.02">+9</text><g transform="translate(143.75 395.50) scale(0.3239)"><path d="M-23.8 -19.0a23.8 23.8 0 1 0 47.6 0a23.8 23.8 0 1 0 -47.6 0Z" fill="none" stroke="#008080" stroke-width="14.5" stroke-linecap="round" stroke-linejoin="round"/><path d="M0 5V43M-13 26H13" fill="none" stroke="#008080" stroke-width="14.5" stroke-linecap="round" stroke-linejoin="round"/></g><g transform="translate(211.50 395.50) scale(0.3239)"><path d="M-26 -43C40 -42 40 42 -26 43C4 22 4 -22 -26 -43Z" fill="none" stroke="#808000" stroke-width="14.5" stroke-linecap="round" stroke-linejoin="round"/></g><g transform="translate(308.00 395.50) scale(0.3239)"><path d="M-27 -43C-8 -41 -4 -26 -9 -15C-14 -3 -24 8 -29 17H29M5 -3V43" fill="none" stroke="#808080" stroke-width="14.5" stroke-linecap="round" stroke-linejoin="round"/></g><g transform="translate(407.50 395.50) scale(0.3239)"><path d="M-23.8 -19.0a23.8 23.8 0 1 0 47.6 0a23.8 23.8 0 1 0 -47.6 0Z" fill="none" stroke="#008080" stroke-width="14.5" stroke-linecap="round" stroke-linejoin="round"/><path d="M0 5V43M-13 26H13" fill="none" stroke="#008080" stroke-width="14.5" stroke-linecap="round" stroke-linejoin="round"/></g><text x="445.5" y="404.1" font-size="33.15" stroke="#000" stroke-width="0.45">+</text><g transform="translate(507.50 395.50) scale(0.3239)"><path d="M-23.8 -19.0a23.8 23.8 0 1 0 47.6 0a23.8 23.8 0 1 0 -47.6 0Z" fill="none" stroke="#008080" stroke-width="14.5" stroke-linecap="round" stroke-linejoin="round"/><path d="M0 5V43M-13 26H13" fill="none" stroke="#008080" stroke-width="14.5" stroke-linecap="round" stroke-linejoin="round"/></g><text x="545.5" y="404.1" font-size="33.15" stroke="#000" stroke-width="0.45">+</text><g transform="translate(603.75 395.50) scale(0.3239)"><path d="M-26 -43C40 -42 40 42 -26 43C4 22 4 -22 -26 -43Z" fill="none" stroke="#808000" stroke-width="14.5" stroke-linecap="round" stroke-linejoin="round"/></g><g transform="translate(703.75 395.50) scale(0.3239)"><path d="M-11 -43V13M-27 -26H6M-11 6C-5 -6 10 -10 20 -3C32 6 28 20 18 27C10 33 12 40 24 43" fill="none" stroke="#800000" stroke-width="14.5" stroke-linecap="round" stroke-linejoin="round"/></g><g transform="translate(802.50 395.50) scale(0.3239)"><path d="M-37.0 13.0a24.5 24.5 0 1 0 49.0 0a24.5 24.5 0 1 0 -49.0 0Z" fill="none" stroke="#ff0000" stroke-width="14.5" stroke-linecap="round" stroke-linejoin="round"/><path d="M5 -5L38 -37M14 -37H38V-13" fill="none" stroke="#ff0000" stroke-width="14.5" stroke-linecap="round" stroke-linejoin="round"/></g><text x="892.0" y="403.4" font-size="35.87" stroke="#000" stroke-width="0.45" letter-spacing="-0.20">+5</text><g transform="translate(143.75 438.00) scale(0.3239)"><path d="M-37.0 13.0a24.5 24.5 0 1 0 49.0 0a24.5 24.5 0 1 0 -49.0 0Z" fill="none" stroke="#ff0000" stroke-width="14.5" stroke-linecap="round" stroke-linejoin="round"/><path d="M5 -5L38 -37M14 -37H38V-13" fill="none" stroke="#ff0000" stroke-width="14.5" stroke-linecap="round" stroke-linejoin="round"/></g><g transform="translate(211.50 438.00) scale(0.3239)"><path d="M-42.7 0.0a42.7 42.7 0 1 0 85.4 0a42.7 42.7 0 1 0 -85.4 0Z" fill="none" stroke="#808000" stroke-width="14.5" stroke-linecap="round" stroke-linejoin="round"/><path d="M-9.3 0.0a9.3 9.3 0 1 0 18.6 0a9.3 9.3 0 1 0 -18.6 0Z" fill="#808000"/></g><text x="283.7" y="445.9" font-size="35.87" stroke="#000" stroke-width="0.45" letter-spacing="-1.92">−−</text><g transform="translate(407.50 438.00) scale(0.3239)"><path d="M-42.7 0.0a42.7 42.7 0 1 0 85.4 0a42.7 42.7 0 1 0 -85.4 0Z" fill="none" stroke="#808000" stroke-width="14.5" stroke-linecap="round" stroke-linejoin="round"/><path d="M-9.3 0.0a9.3 9.3 0 1 0 18.6 0a9.3 9.3 0 1 0 -18.6 0Z" fill="#808000"/></g><g transform="translate(507.50 438.00) scale(0.3239)"><path d="M-23.8 -19.0a23.8 23.8 0 1 0 47.6 0a23.8 23.8 0 1 0 -47.6 0Z" fill="none" stroke="#008080" stroke-width="14.5" stroke-linecap="round" stroke-linejoin="round"/><path d="M0 5V43M-13 26H13" fill="none" stroke="#008080" stroke-width="14.5" stroke-linecap="round" stroke-linejoin="round"/></g><g transform="translate(603.75 438.00) scale(0.3239)"><path d="M-27 -43C-8 -41 -4 -26 -9 -15C-14 -3 -24 8 -29 17H29M5 -3V43" fill="none" stroke="#808080" stroke-width="14.5" stroke-linecap="round" stroke-linejoin="round"/></g><g transform="translate(703.75 438.00) scale(0.3239)"><path d="M-11 -43V13M-27 -26H6M-11 6C-5 -6 10 -10 20 -3C32 6 28 20 18 27C10 33 12 40 24 43" fill="none" stroke="#800000" stroke-width="14.5" stroke-linecap="round" stroke-linejoin="round"/></g><text x="778.2" y="445.9" font-size="35.87" stroke="#000" stroke-width="0.45" letter-spacing="-1.92">−−</text><text x="892.0" y="445.9" font-size="35.87" stroke="#000" stroke-width="0.45" letter-spacing="-0.31">+0</text><text x="950.2" y="445.9" font-size="35.87" stroke="#000" stroke-width="0.45">p</text><g transform="translate(143.75 476.75) scale(0.3239)"><path d="M-27 -43C-8 -41 -4 -26 -9 -15C-14 -3 -24 8 -29 17H29M5 -3V43" fill="none" stroke="#808080" stroke-width="14.5" stroke-linecap="round" stroke-linejoin="round"/></g><g transform="translate(211.50 476.75) scale(0.3239)"><path d="M-23.8 -19.0a23.8 23.8 0 1 0 47.6 0a23.8 23.8 0 1 0 -47.6 0Z" fill="none" stroke="#008080" stroke-width="14.5" stroke-linecap="round" stroke-linejoin="round"/><path d="M0 5V43M-13 26H13" fill="none" stroke="#008080" stroke-width="14.5" stroke-linecap="round" stroke-linejoin="round"/></g><g transform="translate(308.00 476.75) scale(0.3239)"><path d="M-11 -43V13M-27 -26H6M-11 6C-5 -6 10 -10 20 -3C32 6 28 20 18 27C10 33 12 40 24 43" fill="none" stroke="#800000" stroke-width="14.5" stroke-linecap="round" stroke-linejoin="round"/></g><g transform="translate(407.50 476.75) scale(0.3239)"><path d="M-11 -43V13M-27 -26H6M-11 6C-5 -6 10 -10 20 -3C32 6 28 20 18 27C10 33 12 40 24 43" fill="none" stroke="#800000" stroke-width="14.5" stroke-linecap="round" stroke-linejoin="round"/></g><g transform="translate(507.50 476.75) scale(0.3239)"><path d="M-17 -43C-17 -30 -9 -25 0 -25C9 -25 17 -30 17 -43" fill="none" stroke="#800080" stroke-width="14.5" stroke-linecap="round" stroke-linejoin="round"/><path d="M-15.5 -9.5a15.5 15.5 0 1 0 31.0 0a15.5 15.5 0 1 0 -31.0 0Z" fill="none" stroke="#800080" stroke-width="14.5" stroke-linecap="round" stroke-linejoin="round"/><path d="M0 6V43M-16 27H16" fill="none" stroke="#800080" stroke-width="14.5" stroke-linecap="round" stroke-linejoin="round"/></g><g transform="translate(603.75 476.75) scale(0.3239)"><path d="M-11 -43V13M-27 -26H6M-11 6C-5 -6 10 -10 20 -3C32 6 28 20 18 27C10 33 12 40 24 43" fill="none" stroke="#800000" stroke-width="14.5" stroke-linecap="round" stroke-linejoin="round"/></g><g transform="translate(703.75 476.75) scale(0.3239)"><path d="M-37.0 13.0a24.5 24.5 0 1 0 49.0 0a24.5 24.5 0 1 0 -49.0 0Z" fill="none" stroke="#ff0000" stroke-width="14.5" stroke-linecap="round" stroke-linejoin="round"/><path d="M5 -5L38 -37M14 -37H38V-13" fill="none" stroke="#ff0000" stroke-width="14.5" stroke-linecap="round" stroke-linejoin="round"/></g><g transform="translate(802.50 476.75) scale(0.3239)"><path d="M-42.7 0.0a42.7 42.7 0 1 0 85.4 0a42.7 42.7 0 1 0 -85.4 0Z" fill="none" stroke="#808000" stroke-width="14.5" stroke-linecap="round" stroke-linejoin="round"/><path d="M-9.3 0.0a9.3 9.3 0 1 0 18.6 0a9.3 9.3 0 1 0 -18.6 0Z" fill="#808000"/></g><text x="892.0" y="484.6" font-size="35.87" stroke="#000" stroke-width="0.45" letter-spacing="-0.31">+0</text><text x="950.2" y="484.6" font-size="35.87" stroke="#000" stroke-width="0.45">p</text><g transform="translate(143.75 518.00) scale(0.3239)"><path d="M-11 -43V13M-27 -26H6M-11 6C-5 -6 10 -10 20 -3C32 6 28 20 18 27C10 33 12 40 24 43" fill="none" stroke="#800000" stroke-width="14.5" stroke-linecap="round" stroke-linejoin="round"/></g><g transform="translate(211.50 518.00) scale(0.3239)"><path d="M-27 -43C-8 -41 -4 -26 -9 -15C-14 -3 -24 8 -29 17H29M5 -3V43" fill="none" stroke="#808080" stroke-width="14.5" stroke-linecap="round" stroke-linejoin="round"/></g><g transform="translate(308.00 518.00) scale(0.3239)"><path d="M-19 -22C-36 2 -30 43 0 43C30 43 36 2 19 -22" fill="none" stroke="#000" stroke-width="14.5" stroke-linecap="round" stroke-linejoin="round"/><path d="M-32.8 -32.5a10.3 10.3 0 1 0 20.6 0a10.3 10.3 0 1 0 -20.6 0Z" fill="none" stroke="#000" stroke-width="14.5" stroke-linecap="round" stroke-linejoin="round"/><path d="M12.2 -32.5a10.3 10.3 0 1 0 20.6 0a10.3 10.3 0 1 0 -20.6 0Z" fill="none" stroke="#000" stroke-width="14.5" stroke-linecap="round" stroke-linejoin="round"/></g><g transform="translate(407.50 518.00) scale(0.3239)"><path d="M-42.7 0.0a42.7 42.7 0 1 0 85.4 0a42.7 42.7 0 1 0 -85.4 0Z" fill="none" stroke="#808000" stroke-width="14.5" stroke-linecap="round" stroke-linejoin="round"/><path d="M-9.3 0.0a9.3 9.3 0 1 0 18.6 0a9.3 9.3 0 1 0 -18.6 0Z" fill="#808000"/></g><g transform="translate(507.50 518.00) scale(0.3239)"><path d="M-11 -43V13M-27 -26H6M-11 6C-5 -6 10 -10 20 -3C32 6 28 20 18 27C10 33 12 40 24 43" fill="none" stroke="#800000" stroke-width="14.5" stroke-linecap="round" stroke-linejoin="round"/></g><text x="545.5" y="526.6" font-size="33.15" stroke="#000" stroke-width="0.45">+</text><g transform="translate(603.75 518.00) scale(0.3239)"><path d="M-11 -43V13M-27 -26H6M-11 6C-5 -6 10 -10 20 -3C32 6 28 20 18 27C10 33 12 40 24 43" fill="none" stroke="#800000" stroke-width="14.5" stroke-linecap="round" stroke-linejoin="round"/></g><text x="641.8" y="526.6" font-size="33.15" stroke="#000" stroke-width="0.45">+</text><g transform="translate(703.75 518.00) scale(0.3239)"><path d="M-17 -43C-17 -30 -9 -25 0 -25C9 -25 17 -30 17 -43" fill="none" stroke="#800080" stroke-width="14.5" stroke-linecap="round" stroke-linejoin="round"/><path d="M-15.5 -9.5a15.5 15.5 0 1 0 31.0 0a15.5 15.5 0 1 0 -31.0 0Z" fill="none" stroke="#800080" stroke-width="14.5" stroke-linecap="round" stroke-linejoin="round"/><path d="M0 6V43M-16 27H16" fill="none" stroke="#800080" stroke-width="14.5" stroke-linecap="round" stroke-linejoin="round"/></g><g transform="translate(802.50 518.00) scale(0.3239)"><path d="M-19 22C-36 -2 -30 -43 0 -43C30 -43 36 -2 19 22" fill="none" stroke="#000" stroke-width="14.5" stroke-linecap="round" stroke-linejoin="round"/><path d="M-32.8 32.5a10.3 10.3 0 1 0 20.6 0a10.3 10.3 0 1 0 -20.6 0Z" fill="none" stroke="#000" stroke-width="14.5" stroke-linecap="round" stroke-linejoin="round"/><path d="M12.2 32.5a10.3 10.3 0 1 0 20.6 0a10.3 10.3 0 1 0 -20.6 0Z" fill="none" stroke="#000" stroke-width="14.5" stroke-linecap="round" stroke-linejoin="round"/></g><text x="892.0" y="525.9" font-size="35.87" stroke="#000" stroke-width="0.45" letter-spacing="-0.13">+3</text><g transform="translate(143.75 560.00) scale(0.3239)"><path d="M-19 22C-36 -2 -30 -43 0 -43C30 -43 36 -2 19 22" fill="none" stroke="#000" stroke-width="14.5" stroke-linecap="round" stroke-linejoin="round"/><path d="M-32.8 32.5a10.3 10.3 0 1 0 20.6 0a10.3 10.3 0 1 0 -20.6 0Z" fill="none" stroke="#000" stroke-width="14.5" stroke-linecap="round" stroke-linejoin="round"/><path d="M12.2 32.5a10.3 10.3 0 1 0 20.6 0a10.3 10.3 0 1 0 -20.6 0Z" fill="none" stroke="#000" stroke-width="14.5" stroke-linecap="round" stroke-linejoin="round"/></g><g transform="translate(211.50 560.00) scale(0.3239)"><path d="M-42.7 0.0a42.7 42.7 0 1 0 85.4 0a42.7 42.7 0 1 0 -85.4 0Z" fill="none" stroke="#808000" stroke-width="14.5" stroke-linecap="round" stroke-linejoin="round"/><path d="M-9.3 0.0a9.3 9.3 0 1 0 18.6 0a9.3 9.3 0 1 0 -18.6 0Z" fill="#808000"/></g><text x="283.7" y="567.9" font-size="35.87" stroke="#000" stroke-width="0.45" letter-spacing="-1.92">−−</text><g transform="translate(407.50 560.00) scale(0.3239)"><path d="M-42.7 0.0a42.7 42.7 0 1 0 85.4 0a42.7 42.7 0 1 0 -85.4 0Z" fill="none" stroke="#808000" stroke-width="14.5" stroke-linecap="round" stroke-linejoin="round"/><path d="M-9.3 0.0a9.3 9.3 0 1 0 18.6 0a9.3 9.3 0 1 0 -18.6 0Z" fill="#808000"/></g><g transform="translate(507.50 560.00) scale(0.3239)"><path d="M-27 -43C-8 -41 -4 -26 -9 -15C-14 -3 -24 8 -29 17H29M5 -3V43" fill="none" stroke="#808080" stroke-width="14.5" stroke-linecap="round" stroke-linejoin="round"/></g><g transform="translate(603.75 560.00) scale(0.3239)"><path d="M-37.0 13.0a24.5 24.5 0 1 0 49.0 0a24.5 24.5 0 1 0 -49.0 0Z" fill="none" stroke="#ff0000" stroke-width="14.5" stroke-linecap="round" stroke-linejoin="round"/><path d="M5 -5L38 -37M14 -37H38V-13" fill="none" stroke="#ff0000" stroke-width="14.5" stroke-linecap="round" stroke-linejoin="round"/></g><g transform="translate(703.75 560.00) scale(0.3239)"><path d="M-11 -43V13M-27 -26H6M-11 6C-5 -6 10 -10 20 -3C32 6 28 20 18 27C10 33 12 40 24 43" fill="none" stroke="#800000" stroke-width="14.5" stroke-linecap="round" stroke-linejoin="round"/></g><text x="778.2" y="567.9" font-size="35.87" stroke="#000" stroke-width="0.45" letter-spacing="-1.92">−−</text><text x="889.7" y="567.9" font-size="35.87" stroke="#000" stroke-width="0.45" letter-spacing="-1.92">−−</text><g transform="translate(143.75 599.00) scale(0.3239)"><path d="M-19 -22C-36 2 -30 43 0 43C30 43 36 2 19 -22" fill="none" stroke="#000" stroke-width="14.5" stroke-linecap="round" stroke-linejoin="round"/><path d="M-32.8 -32.5a10.3 10.3 0 1 0 20.6 0a10.3 10.3 0 1 0 -20.6 0Z" fill="none" stroke="#000" stroke-width="14.5" stroke-linecap="round" stroke-linejoin="round"/><path d="M12.2 -32.5a10.3 10.3 0 1 0 20.6 0a10.3 10.3 0 1 0 -20.6 0Z" fill="none" stroke="#000" stroke-width="14.5" stroke-linecap="round" stroke-linejoin="round"/></g><g transform="translate(211.50 599.00) scale(0.3239)"><path d="M-11 -43V13M-27 -26H6M-11 6C-5 -6 10 -10 20 -3C32 6 28 20 18 27C10 33 12 40 24 43" fill="none" stroke="#800000" stroke-width="14.5" stroke-linecap="round" stroke-linejoin="round"/></g><text x="283.7" y="606.9" font-size="35.87" stroke="#000" stroke-width="0.45" letter-spacing="-1.92">−−</text><g transform="translate(407.50 599.00) scale(0.3239)"><path d="M-11 -43V13M-27 -26H6M-11 6C-5 -6 10 -10 20 -3C32 6 28 20 18 27C10 33 12 40 24 43" fill="none" stroke="#800000" stroke-width="14.5" stroke-linecap="round" stroke-linejoin="round"/></g><g transform="translate(507.50 599.00) scale(0.3239)"><path d="M-27 -43C-8 -41 -4 -26 -9 -15C-14 -3 -24 8 -29 17H29M5 -3V43" fill="none" stroke="#808080" stroke-width="14.5" stroke-linecap="round" stroke-linejoin="round"/></g><g transform="translate(603.75 599.00) scale(0.3239)"><path d="M-26 -43C40 -42 40 42 -26 43C4 22 4 -22 -26 -43Z" fill="none" stroke="#808000" stroke-width="14.5" stroke-linecap="round" stroke-linejoin="round"/></g><g transform="translate(703.75 599.00) scale(0.3239)"><path d="M-42.7 0.0a42.7 42.7 0 1 0 85.4 0a42.7 42.7 0 1 0 -85.4 0Z" fill="none" stroke="#808000" stroke-width="14.5" stroke-linecap="round" stroke-linejoin="round"/><path d="M-9.3 0.0a9.3 9.3 0 1 0 18.6 0a9.3 9.3 0 1 0 -18.6 0Z" fill="#808000"/></g><text x="778.2" y="606.9" font-size="35.87" stroke="#000" stroke-width="0.45" letter-spacing="-1.92">−−</text><text x="889.7" y="606.9" font-size="35.87" stroke="#000" stroke-width="0.45" letter-spacing="-1.92">−−</text><text transform="translate(143.8 657.3) scale(0.62 1)" x="0" y="0" font-size="41.9" text-anchor="middle" stroke="#000" stroke-width="1.26">As</text><g transform="translate(211.50 641.50) scale(0.3239)"><path d="M-23.8 -19.0a23.8 23.8 0 1 0 47.6 0a23.8 23.8 0 1 0 -47.6 0Z" fill="none" stroke="#008080" stroke-width="14.5" stroke-linecap="round" stroke-linejoin="round"/><path d="M0 5V43M-13 26H13" fill="none" stroke="#008080" stroke-width="14.5" stroke-linecap="round" stroke-linejoin="round"/></g><g transform="translate(308.00 641.50) scale(0.3239)"><path d="M-11 -43V13M-27 -26H6M-11 6C-5 -6 10 -10 20 -3C32 6 28 20 18 27C10 33 12 40 24 43" fill="none" stroke="#800000" stroke-width="14.5" stroke-linecap="round" stroke-linejoin="round"/></g><g transform="translate(407.50 641.50) scale(0.3239)"><path d="M-11 -43V13M-27 -26H6M-11 6C-5 -6 10 -10 20 -3C32 6 28 20 18 27C10 33 12 40 24 43" fill="none" stroke="#800000" stroke-width="14.5" stroke-linecap="round" stroke-linejoin="round"/></g><g transform="translate(507.50 641.50) scale(0.3239)"><path d="M-27 -43C-8 -41 -4 -26 -9 -15C-14 -3 -24 8 -29 17H29M5 -3V43" fill="none" stroke="#808080" stroke-width="14.5" stroke-linecap="round" stroke-linejoin="round"/></g><g transform="translate(603.75 641.50) scale(0.3239)"><path d="M-11 -43V13M-27 -26H6M-11 6C-5 -6 10 -10 20 -3C32 6 28 20 18 27C10 33 12 40 24 43" fill="none" stroke="#800000" stroke-width="14.5" stroke-linecap="round" stroke-linejoin="round"/></g><g transform="translate(703.75 641.50) scale(0.3239)"><path d="M-37.0 13.0a24.5 24.5 0 1 0 49.0 0a24.5 24.5 0 1 0 -49.0 0Z" fill="none" stroke="#ff0000" stroke-width="14.5" stroke-linecap="round" stroke-linejoin="round"/><path d="M5 -5L38 -37M14 -37H38V-13" fill="none" stroke="#ff0000" stroke-width="14.5" stroke-linecap="round" stroke-linejoin="round"/></g><g transform="translate(802.50 641.50) scale(0.3239)"><path d="M-42.7 0.0a42.7 42.7 0 1 0 85.4 0a42.7 42.7 0 1 0 -85.4 0Z" fill="none" stroke="#808000" stroke-width="14.5" stroke-linecap="round" stroke-linejoin="round"/><path d="M-9.3 0.0a9.3 9.3 0 1 0 18.6 0a9.3 9.3 0 1 0 -18.6 0Z" fill="#808000"/></g><text x="889.7" y="649.4" font-size="35.87" stroke="#000" stroke-width="0.45" letter-spacing="-1.92">−−</text><text transform="translate(143.8 696.8) scale(0.62 1)" x="0" y="0" font-size="41.9" text-anchor="middle" stroke="#000" stroke-width="1.26">Mc</text><g transform="translate(211.50 681.00) scale(0.3239)"><path d="M-26 -43C40 -42 40 42 -26 43C4 22 4 -22 -26 -43Z" fill="none" stroke="#808000" stroke-width="14.5" stroke-linecap="round" stroke-linejoin="round"/></g><g transform="translate(308.00 681.00) scale(0.3239)"><path d="M-27 -43C-8 -41 -4 -26 -9 -15C-14 -3 -24 8 -29 17H29M5 -3V43" fill="none" stroke="#808080" stroke-width="14.5" stroke-linecap="round" stroke-linejoin="round"/></g><g transform="translate(407.50 681.00) scale(0.3239)"><path d="M-23.8 -19.0a23.8 23.8 0 1 0 47.6 0a23.8 23.8 0 1 0 -47.6 0Z" fill="none" stroke="#008080" stroke-width="14.5" stroke-linecap="round" stroke-linejoin="round"/><path d="M0 5V43M-13 26H13" fill="none" stroke="#008080" stroke-width="14.5" stroke-linecap="round" stroke-linejoin="round"/></g><g transform="translate(507.50 681.00) scale(0.3239)"><path d="M-17 -43C-17 -30 -9 -25 0 -25C9 -25 17 -30 17 -43" fill="none" stroke="#800080" stroke-width="14.5" stroke-linecap="round" stroke-linejoin="round"/><path d="M-15.5 -9.5a15.5 15.5 0 1 0 31.0 0a15.5 15.5 0 1 0 -31.0 0Z" fill="none" stroke="#800080" stroke-width="14.5" stroke-linecap="round" stroke-linejoin="round"/><path d="M0 6V43M-16 27H16" fill="none" stroke="#800080" stroke-width="14.5" stroke-linecap="round" stroke-linejoin="round"/></g><g transform="translate(603.75 681.00) scale(0.3239)"><path d="M-17 -43C-17 -30 -9 -25 0 -25C9 -25 17 -30 17 -43" fill="none" stroke="#800080" stroke-width="14.5" stroke-linecap="round" stroke-linejoin="round"/><path d="M-15.5 -9.5a15.5 15.5 0 1 0 31.0 0a15.5 15.5 0 1 0 -31.0 0Z" fill="none" stroke="#800080" stroke-width="14.5" stroke-linecap="round" stroke-linejoin="round"/><path d="M0 6V43M-16 27H16" fill="none" stroke="#800080" stroke-width="14.5" stroke-linecap="round" stroke-linejoin="round"/></g><g transform="translate(703.75 681.00) scale(0.3239)"><path d="M-11 -43V13M-27 -26H6M-11 6C-5 -6 10 -10 20 -3C32 6 28 20 18 27C10 33 12 40 24 43" fill="none" stroke="#800000" stroke-width="14.5" stroke-linecap="round" stroke-linejoin="round"/></g><g transform="translate(802.50 681.00) scale(0.3239)"><path d="M-37.0 13.0a24.5 24.5 0 1 0 49.0 0a24.5 24.5 0 1 0 -49.0 0Z" fill="none" stroke="#ff0000" stroke-width="14.5" stroke-linecap="round" stroke-linejoin="round"/><path d="M5 -5L38 -37M14 -37H38V-13" fill="none" stroke="#ff0000" stroke-width="14.5" stroke-linecap="round" stroke-linejoin="round"/></g><text x="889.7" y="688.9" font-size="35.87" stroke="#000" stroke-width="0.45" letter-spacing="-1.92">−−</text><g transform="translate(143.75 724.00) scale(0.3239)"><path d="M-42.5 0.0a42.5 42.5 0 1 0 85.0 0a42.5 42.5 0 1 0 -85.0 0Z" fill="none" stroke="#000" stroke-width="14.5" stroke-linecap="round" stroke-linejoin="round"/><path d="M-29 -29L29 29M29 -29L-29 29" fill="none" stroke="#000" stroke-width="14.5" stroke-linecap="round" stroke-linejoin="round"/></g><g transform="translate(211.50 724.00) scale(0.3239)"><path d="M-42.7 0.0a42.7 42.7 0 1 0 85.4 0a42.7 42.7 0 1 0 -85.4 0Z" fill="none" stroke="#808000" stroke-width="14.5" stroke-linecap="round" stroke-linejoin="round"/><path d="M-9.3 0.0a9.3 9.3 0 1 0 18.6 0a9.3 9.3 0 1 0 -18.6 0Z" fill="#808000"/></g><text x="283.7" y="731.9" font-size="35.87" stroke="#000" stroke-width="0.45" letter-spacing="-1.92">−−</text><g transform="translate(407.50 724.00) scale(0.3239)"><path d="M-42.7 0.0a42.7 42.7 0 1 0 85.4 0a42.7 42.7 0 1 0 -85.4 0Z" fill="none" stroke="#808000" stroke-width="14.5" stroke-linecap="round" stroke-linejoin="round"/><path d="M-9.3 0.0a9.3 9.3 0 1 0 18.6 0a9.3 9.3 0 1 0 -18.6 0Z" fill="#808000"/></g><g transform="translate(507.50 724.00) scale(0.3239)"><path d="M-37.0 13.0a24.5 24.5 0 1 0 49.0 0a24.5 24.5 0 1 0 -49.0 0Z" fill="none" stroke="#ff0000" stroke-width="14.5" stroke-linecap="round" stroke-linejoin="round"/><path d="M5 -5L38 -37M14 -37H38V-13" fill="none" stroke="#ff0000" stroke-width="14.5" stroke-linecap="round" stroke-linejoin="round"/></g><g transform="translate(603.75 724.00) scale(0.3239)"><path d="M-37.0 13.0a24.5 24.5 0 1 0 49.0 0a24.5 24.5 0 1 0 -49.0 0Z" fill="none" stroke="#ff0000" stroke-width="14.5" stroke-linecap="round" stroke-linejoin="round"/><path d="M5 -5L38 -37M14 -37H38V-13" fill="none" stroke="#ff0000" stroke-width="14.5" stroke-linecap="round" stroke-linejoin="round"/></g><g transform="translate(703.75 724.00) scale(0.3239)"><path d="M-11 -43V13M-27 -26H6M-11 6C-5 -6 10 -10 20 -3C32 6 28 20 18 27C10 33 12 40 24 43" fill="none" stroke="#800000" stroke-width="14.5" stroke-linecap="round" stroke-linejoin="round"/></g><text x="778.2" y="731.9" font-size="35.87" stroke="#000" stroke-width="0.45" letter-spacing="-1.92">−−</text><text x="889.7" y="731.9" font-size="35.87" stroke="#000" stroke-width="0.45" letter-spacing="-1.92">−−</text><rect x="102.5" y="772.0" width="578.5" height="176.5" fill="#fff" stroke="#000" stroke-width="3"/><rect x="108.5" y="778.0" width="566.8" height="164.7" fill="none" stroke="#000" stroke-width="3"/><line x1="107.0" y1="816.0" x2="676.8" y2="816.0" stroke="#000" stroke-width="3"/><line x1="563.9" y1="779.5" x2="563.9" y2="813.5" stroke="#000" stroke-width="3"/><line x1="563.9" y1="819.0" x2="563.9" y2="942.7" stroke="#000" stroke-width="3"/><text x="120.1" y="809.3" font-size="32.94" stroke="#000" stroke-width="0.45" letter-spacing="0.93">Fixed Stars</text><text x="589.7" y="808.4" font-size="34.24" stroke="#000" stroke-width="0.45" letter-spacing="-0.78">Orb</text><g transform="translate(139.50 840.00) scale(0.3229)"><path d="M-23.8 -19.0a23.8 23.8 0 1 0 47.6 0a23.8 23.8 0 1 0 -47.6 0Z" fill="none" stroke="#008080" stroke-width="14.5" stroke-linecap="round" stroke-linejoin="round"/><path d="M0 5V43M-13 26H13" fill="none" stroke="#008080" stroke-width="14.5" stroke-linecap="round" stroke-linejoin="round"/></g><g transform="translate(195.00 837.00) scale(0.2814)"><path d="M-35.5 15.0a22.5 22.5 0 1 0 45.0 0a22.5 22.5 0 1 0 -45.0 0Z" fill="none" stroke="#000" stroke-width="12.5" stroke-linecap="round" stroke-linejoin="round"/><path d="M4 -2L36 -37" fill="none" stroke="#000" stroke-width="12.5" stroke-linecap="round" stroke-linejoin="round"/></g><text x="233.6" y="848.4" font-size="34.24" stroke="#000" stroke-width="0.45" letter-spacing="1.31">CASTOR</text><text x="580.7" y="848.4" font-size="34.24" stroke="#000" stroke-width="0.45" letter-spacing="-0.63">0°30'</text><text transform="translate(137.5 897.0) scale(0.62 1)" x="0" y="0" font-size="41.8" text-anchor="middle" stroke="#000" stroke-width="1.25">Mc</text><g transform="translate(195.00 878.25) scale(0.2814)"><path d="M-35.5 15.0a22.5 22.5 0 1 0 45.0 0a22.5 22.5 0 1 0 -45.0 0Z" fill="none" stroke="#000" stroke-width="12.5" stroke-linecap="round" stroke-linejoin="round"/><path d="M4 -2L36 -37" fill="none" stroke="#000" stroke-width="12.5" stroke-linecap="round" stroke-linejoin="round"/></g><text x="233.8" y="889.6" font-size="34.24" stroke="#000" stroke-width="0.45" letter-spacing="0.62">SIRIUS***</text><text x="580.7" y="889.6" font-size="34.24" stroke="#000" stroke-width="0.45" letter-spacing="-0.63">0°04'</text><g transform="translate(195.00 922.00) scale(0.2814)"><path d="M-35.5 15.0a22.5 22.5 0 1 0 45.0 0a22.5 22.5 0 1 0 -45.0 0Z" fill="none" stroke="#000" stroke-width="12.5" stroke-linecap="round" stroke-linejoin="round"/><path d="M4 -2L36 -37" fill="none" stroke="#000" stroke-width="12.5" stroke-linecap="round" stroke-linejoin="round"/></g><text x="233.6" y="933.4" font-size="34.24" stroke="#000" stroke-width="0.45" letter-spacing="0.53">CANOPUS**</text><text x="580.7" y="933.4" font-size="34.24" stroke="#000" stroke-width="0.45" letter-spacing="-0.63">0°47'</text><rect x="709.0" y="732.9" width="281.4" height="338.1" fill="#fff" stroke="#000" stroke-width="3"/><rect x="714.8" y="739.0" width="269.2" height="326.2" fill="none" stroke="#000" stroke-width="3"/><text x="724.5" y="769.4" font-size="30.87" stroke="#000" stroke-width="0.45" letter-spacing="0.34">MOON ASPECTS</text><line x1="713.3" y1="776.5" x2="985.5" y2="776.5" stroke="#000" stroke-width="3"/><line x1="713.3" y1="900.9" x2="985.5" y2="900.9" stroke="#000" stroke-width="3"/><g transform="translate(741.00 799.75) scale(0.2972)"><path d="M-26 -43C40 -42 40 42 -26 43C4 22 4 -22 -26 -43Z" fill="none" stroke="#808000" stroke-width="14.5" stroke-linecap="round" stroke-linejoin="round"/></g><g transform="translate(784.30 796.75) scale(0.2688)"><path d="M-35.5 15.0a22.5 22.5 0 1 0 45.0 0a22.5 22.5 0 1 0 -45.0 0Z" fill="none" stroke="#000" stroke-width="13" stroke-linecap="round" stroke-linejoin="round"/><path d="M4 -2L36 -37" fill="none" stroke="#000" stroke-width="13" stroke-linecap="round" stroke-linejoin="round"/></g><g transform="translate(828.70 796.23) scale(0.2310)"><path d="M-41.0 -13.0a15.0 15.0 0 1 0 30.0 0a15.0 15.0 0 1 0 -30.0 0Z" fill="none" stroke="#0000ff" stroke-width="14.5" stroke-linecap="round" stroke-linejoin="round"/><path d="M11.0 13.0a15.0 15.0 0 1 0 30.0 0a15.0 15.0 0 1 0 -30.0 0Z" fill="none" stroke="#0000ff" stroke-width="14.5" stroke-linecap="round" stroke-linejoin="round"/><path d="M-42 -22C-30 -50 30 -48 48 -20M42 22C30 50 -30 48 -48 20" fill="none" stroke="#0000ff" stroke-width="14.5" stroke-linecap="round" stroke-linejoin="round"/></g><text x="856.4" y="807.1" font-size="31.36" stroke="#000" stroke-width="0.45" letter-spacing="0.20">13°15' S</text><g transform="translate(741.00 841.00) scale(0.2972)"><path d="M-26 -43C40 -42 40 42 -26 43C4 22 4 -22 -26 -43Z" fill="none" stroke="#808000" stroke-width="14.5" stroke-linecap="round" stroke-linejoin="round"/></g><g transform="translate(784.30 838.00) scale(0.2560)"><path d="M-47 0H47M-27 -33L27 33M27 -33L-27 33" fill="none" stroke="#0000ff" stroke-width="14.5" stroke-linecap="butt"/></g><g transform="translate(827.70 840.00) scale(0.2972)"><path d="M-17 -43C-17 -30 -9 -25 0 -25C9 -25 17 -30 17 -43" fill="none" stroke="#800080" stroke-width="14.5" stroke-linecap="round" stroke-linejoin="round"/><path d="M-15.5 -9.5a15.5 15.5 0 1 0 31.0 0a15.5 15.5 0 1 0 -31.0 0Z" fill="none" stroke="#800080" stroke-width="14.5" stroke-linecap="round" stroke-linejoin="round"/><path d="M0 6V43M-16 27H16" fill="none" stroke="#800080" stroke-width="14.5" stroke-linecap="round" stroke-linejoin="round"/></g><text x="865.1" y="848.4" font-size="31.36" stroke="#000" stroke-width="0.45" letter-spacing="0.27">3°02' S</text><g transform="translate(741.00 882.25) scale(0.2972)"><path d="M-26 -43C40 -42 40 42 -26 43C4 22 4 -22 -26 -43Z" fill="none" stroke="#808000" stroke-width="14.5" stroke-linecap="round" stroke-linejoin="round"/></g><g transform="translate(784.30 879.25) scale(0.2688)"><path d="M-35.5 15.0a22.5 22.5 0 1 0 45.0 0a22.5 22.5 0 1 0 -45.0 0Z" fill="none" stroke="#000" stroke-width="13" stroke-linecap="round" stroke-linejoin="round"/><path d="M4 -2L36 -37" fill="none" stroke="#000" stroke-width="13" stroke-linecap="round" stroke-linejoin="round"/></g><text transform="translate(827.7 895.8) scale(0.62 1)" x="0" y="0" font-size="38.5" text-anchor="middle" stroke="#000" stroke-width="1.15">Mc</text><text x="863.9" y="889.6" font-size="31.36" stroke="#000" stroke-width="0.45" letter-spacing="0.47">1°08' S</text><g transform="translate(741.00 926.00) scale(0.2972)"><path d="M-26 -43C40 -42 40 42 -26 43C4 22 4 -22 -26 -43Z" fill="none" stroke="#808000" stroke-width="14.5" stroke-linecap="round" stroke-linejoin="round"/></g><g transform="translate(781.36 923.00) scale(0.2662)"><path d="M-33 -36H33V36H-33Z" fill="none" stroke="#ff0000" stroke-width="13" stroke-linejoin="miter"/></g><text transform="translate(827.7 939.5) scale(0.62 1)" x="0" y="0" font-size="38.5" text-anchor="middle" stroke="#000" stroke-width="1.15">As</text><text x="865.0" y="933.4" font-size="31.36" stroke="#000" stroke-width="0.45" letter-spacing="0.34">0°53' A</text><g transform="translate(741.00 964.75) scale(0.2972)"><path d="M-26 -43C40 -42 40 42 -26 43C4 22 4 -22 -26 -43Z" fill="none" stroke="#808000" stroke-width="14.5" stroke-linecap="round" stroke-linejoin="round"/></g><g transform="translate(781.36 961.75) scale(0.2662)"><path d="M-33 -36H33V36H-33Z" fill="none" stroke="#ff0000" stroke-width="13" stroke-linejoin="miter"/></g><g transform="translate(827.70 963.75) scale(0.2972)"><path d="M-27 -43C-8 -41 -4 -26 -9 -15C-14 -3 -24 8 -29 17H29M5 -3V43" fill="none" stroke="#808080" stroke-width="14.5" stroke-linecap="round" stroke-linejoin="round"/></g><text x="864.7" y="972.1" font-size="31.36" stroke="#000" stroke-width="0.45" letter-spacing="0.40">6°23' A</text><g transform="translate(741.00 1004.75) scale(0.2972)"><path d="M-26 -43C40 -42 40 42 -26 43C4 22 4 -22 -26 -43Z" fill="none" stroke="#808000" stroke-width="14.5" stroke-linecap="round" stroke-linejoin="round"/></g><g transform="translate(784.30 1001.75) scale(0.2688)"><path d="M-35.5 15.0a22.5 22.5 0 1 0 45.0 0a22.5 22.5 0 1 0 -45.0 0Z" fill="none" stroke="#000" stroke-width="13" stroke-linecap="round" stroke-linejoin="round"/><path d="M4 -2L36 -37" fill="none" stroke="#000" stroke-width="13" stroke-linecap="round" stroke-linejoin="round"/></g><g transform="translate(827.70 1003.75) scale(0.2972)"><path d="M-23.8 -19.0a23.8 23.8 0 1 0 47.6 0a23.8 23.8 0 1 0 -47.6 0Z" fill="none" stroke="#008080" stroke-width="14.5" stroke-linecap="round" stroke-linejoin="round"/><path d="M0 5V43M-13 26H13" fill="none" stroke="#008080" stroke-width="14.5" stroke-linecap="round" stroke-linejoin="round"/></g><text x="864.7" y="1012.1" font-size="31.36" stroke="#000" stroke-width="0.45" letter-spacing="0.40">7°43' A</text><g transform="translate(741.00 1047.25) scale(0.2972)"><path d="M-26 -43C40 -42 40 42 -26 43C4 22 4 -22 -26 -43Z" fill="none" stroke="#808000" stroke-width="14.5" stroke-linecap="round" stroke-linejoin="round"/></g><g transform="translate(784.30 1044.25) scale(0.2560)"><path d="M-47 0H47M-27 -33L27 33M27 -33L-27 33" fill="none" stroke="#0000ff" stroke-width="14.5" stroke-linecap="butt"/></g><g transform="translate(827.70 1046.25) scale(0.2972)"><path d="M-42.5 0.0a42.5 42.5 0 1 0 85.0 0a42.5 42.5 0 1 0 -85.0 0Z" fill="none" stroke="#000" stroke-width="14.5" stroke-linecap="round" stroke-linejoin="round"/><path d="M-29 -29L29 29M29 -29L-29 29" fill="none" stroke="#000" stroke-width="14.5" stroke-linecap="round" stroke-linejoin="round"/></g><text x="856.4" y="1054.7" font-size="31.36" stroke="#000" stroke-width="0.45" letter-spacing="0.25">13°26' A</text><path d="M130.5 1120.3H285L1131.6 1960.5V2036.2H130.5Z" fill="#fff" stroke="#000" stroke-width="2.6" stroke-linejoin="miter"/><line x1="206.4" y1="1195.8" x2="285.8" y2="1195.8" stroke="#000" stroke-width="2.4"/><line x1="206.4" y1="1272.2" x2="362.8" y2="1272.2" stroke="#000" stroke-width="2.4"/><line x1="206.4" y1="1348.5" x2="439.8" y2="1348.5" stroke="#000" stroke-width="2.4"/><line x1="206.4" y1="1425.0" x2="516.8" y2="1425.0" stroke="#000" stroke-width="2.4"/><line x1="206.4" y1="1501.3" x2="593.8" y2="1501.3" stroke="#000" stroke-width="2.4"/><line x1="206.4" y1="1577.8" x2="670.8" y2="1577.8" stroke="#000" stroke-width="2.4"/><line x1="206.4" y1="1654.2" x2="747.8" y2="1654.2" stroke="#000" stroke-width="2.4"/><line x1="206.4" y1="1730.6" x2="824.8" y2="1730.6" stroke="#000" stroke-width="2.4"/><line x1="206.4" y1="1807.0" x2="901.8" y2="1807.0" stroke="#000" stroke-width="2.4"/><line x1="206.4" y1="1883.3" x2="978.8" y2="1883.3" stroke="#000" stroke-width="2.4"/><line x1="206.4" y1="1959.8" x2="1055.8" y2="1959.8" stroke="#000" stroke-width="2.4"/><line x1="206.4" y1="2036.2" x2="1132.8" y2="2036.2" stroke="#000" stroke-width="2.4"/><line x1="207.6" y1="1195.8" x2="207.6" y2="2036.2" stroke="#000" stroke-width="2.4"/><line x1="284.6" y1="1195.8" x2="284.6" y2="2036.2" stroke="#000" stroke-width="2.4"/><line x1="361.6" y1="1272.2" x2="361.6" y2="2036.2" stroke="#000" stroke-width="2.4"/><line x1="438.6" y1="1348.5" x2="438.6" y2="2036.2" stroke="#000" stroke-width="2.4"/><line x1="515.6" y1="1425.0" x2="515.6" y2="2036.2" stroke="#000" stroke-width="2.4"/><line x1="592.6" y1="1501.3" x2="592.6" y2="2036.2" stroke="#000" stroke-width="2.4"/><line x1="669.6" y1="1577.8" x2="669.6" y2="2036.2" stroke="#000" stroke-width="2.4"/><line x1="746.6" y1="1654.2" x2="746.6" y2="2036.2" stroke="#000" stroke-width="2.4"/><line x1="823.6" y1="1730.6" x2="823.6" y2="2036.2" stroke="#000" stroke-width="2.4"/><line x1="900.6" y1="1807.0" x2="900.6" y2="2036.2" stroke="#000" stroke-width="2.4"/><line x1="977.6" y1="1883.3" x2="977.6" y2="2036.2" stroke="#000" stroke-width="2.4"/><line x1="1054.6" y1="1959.8" x2="1054.6" y2="2036.2" stroke="#000" stroke-width="2.4"/><g transform="translate(245.00 1165.60) scale(0.5279)"><path d="M-26 -43C40 -42 40 42 -26 43C4 22 4 -22 -26 -43Z" fill="none" stroke="#808000" stroke-width="14.5" stroke-linecap="round" stroke-linejoin="round"/></g><g transform="translate(323.00 1245.40) scale(0.5279)"><path d="M-42.7 0.0a42.7 42.7 0 1 0 85.4 0a42.7 42.7 0 1 0 -85.4 0Z" fill="none" stroke="#808000" stroke-width="14.5" stroke-linecap="round" stroke-linejoin="round"/><path d="M-9.3 0.0a9.3 9.3 0 1 0 18.6 0a9.3 9.3 0 1 0 -18.6 0Z" fill="#808000"/></g><g transform="translate(170.00 1245.40) scale(0.5279)"><path d="M-42.7 0.0a42.7 42.7 0 1 0 85.4 0a42.7 42.7 0 1 0 -85.4 0Z" fill="none" stroke="#808000" stroke-width="14.5" stroke-linecap="round" stroke-linejoin="round"/><path d="M-9.3 0.0a9.3 9.3 0 1 0 18.6 0a9.3 9.3 0 1 0 -18.6 0Z" fill="#808000"/></g><g transform="translate(397.50 1318.80) scale(0.5279)"><path d="M-17 -43C-17 -30 -9 -25 0 -25C9 -25 17 -30 17 -43" fill="none" stroke="#800080" stroke-width="14.5" stroke-linecap="round" stroke-linejoin="round"/><path d="M-15.5 -9.5a15.5 15.5 0 1 0 31.0 0a15.5 15.5 0 1 0 -31.0 0Z" fill="none" stroke="#800080" stroke-width="14.5" stroke-linecap="round" stroke-linejoin="round"/><path d="M0 6V43M-16 27H16" fill="none" stroke="#800080" stroke-width="14.5" stroke-linecap="round" stroke-linejoin="round"/></g><g transform="translate(170.00 1318.80) scale(0.5279)"><path d="M-17 -43C-17 -30 -9 -25 0 -25C9 -25 17 -30 17 -43" fill="none" stroke="#800080" stroke-width="14.5" stroke-linecap="round" stroke-linejoin="round"/><path d="M-15.5 -9.5a15.5 15.5 0 1 0 31.0 0a15.5 15.5 0 1 0 -31.0 0Z" fill="none" stroke="#800080" stroke-width="14.5" stroke-linecap="round" stroke-linejoin="round"/><path d="M0 6V43M-16 27H16" fill="none" stroke="#800080" stroke-width="14.5" stroke-linecap="round" stroke-linejoin="round"/></g><g transform="translate(477.50 1397.70) scale(0.5279)"><path d="M-23.8 -19.0a23.8 23.8 0 1 0 47.6 0a23.8 23.8 0 1 0 -47.6 0Z" fill="none" stroke="#008080" stroke-width="14.5" stroke-linecap="round" stroke-linejoin="round"/><path d="M0 5V43M-13 26H13" fill="none" stroke="#008080" stroke-width="14.5" stroke-linecap="round" stroke-linejoin="round"/></g><g transform="translate(170.00 1397.70) scale(0.5279)"><path d="M-23.8 -19.0a23.8 23.8 0 1 0 47.6 0a23.8 23.8 0 1 0 -47.6 0Z" fill="none" stroke="#008080" stroke-width="14.5" stroke-linecap="round" stroke-linejoin="round"/><path d="M0 5V43M-13 26H13" fill="none" stroke="#008080" stroke-width="14.5" stroke-linecap="round" stroke-linejoin="round"/></g><g transform="translate(551.50 1472.00) scale(0.5279)"><path d="M-37.0 13.0a24.5 24.5 0 1 0 49.0 0a24.5 24.5 0 1 0 -49.0 0Z" fill="none" stroke="#ff0000" stroke-width="14.5" stroke-linecap="round" stroke-linejoin="round"/><path d="M5 -5L38 -37M14 -37H38V-13" fill="none" stroke="#ff0000" stroke-width="14.5" stroke-linecap="round" stroke-linejoin="round"/></g><g transform="translate(170.00 1472.00) scale(0.5279)"><path d="M-37.0 13.0a24.5 24.5 0 1 0 49.0 0a24.5 24.5 0 1 0 -49.0 0Z" fill="none" stroke="#ff0000" stroke-width="14.5" stroke-linecap="round" stroke-linejoin="round"/><path d="M5 -5L38 -37M14 -37H38V-13" fill="none" stroke="#ff0000" stroke-width="14.5" stroke-linecap="round" stroke-linejoin="round"/></g><g transform="translate(631.30 1551.00) scale(0.5279)"><path d="M-27 -43C-8 -41 -4 -26 -9 -15C-14 -3 -24 8 -29 17H29M5 -3V43" fill="none" stroke="#808080" stroke-width="14.5" stroke-linecap="round" stroke-linejoin="round"/></g><g transform="translate(170.00 1551.00) scale(0.5279)"><path d="M-27 -43C-8 -41 -4 -26 -9 -15C-14 -3 -24 8 -29 17H29M5 -3V43" fill="none" stroke="#808080" stroke-width="14.5" stroke-linecap="round" stroke-linejoin="round"/></g><g transform="translate(705.00 1625.00) scale(0.5279)"><path d="M-11 -43V13M-27 -26H6M-11 6C-5 -6 10 -10 20 -3C32 6 28 20 18 27C10 33 12 40 24 43" fill="none" stroke="#800000" stroke-width="14.5" stroke-linecap="round" stroke-linejoin="round"/></g><g transform="translate(170.00 1625.00) scale(0.5279)"><path d="M-11 -43V13M-27 -26H6M-11 6C-5 -6 10 -10 20 -3C32 6 28 20 18 27C10 33 12 40 24 43" fill="none" stroke="#800000" stroke-width="14.5" stroke-linecap="round" stroke-linejoin="round"/></g><g transform="translate(785.00 1703.60) scale(0.5279)"><path d="M-19 22C-36 -2 -30 -43 0 -43C30 -43 36 -2 19 22" fill="none" stroke="#000" stroke-width="14.5" stroke-linecap="round" stroke-linejoin="round"/><path d="M-32.8 32.5a10.3 10.3 0 1 0 20.6 0a10.3 10.3 0 1 0 -20.6 0Z" fill="none" stroke="#000" stroke-width="14.5" stroke-linecap="round" stroke-linejoin="round"/><path d="M12.2 32.5a10.3 10.3 0 1 0 20.6 0a10.3 10.3 0 1 0 -20.6 0Z" fill="none" stroke="#000" stroke-width="14.5" stroke-linecap="round" stroke-linejoin="round"/></g><g transform="translate(170.00 1703.60) scale(0.5279)"><path d="M-19 22C-36 -2 -30 -43 0 -43C30 -43 36 -2 19 22" fill="none" stroke="#000" stroke-width="14.5" stroke-linecap="round" stroke-linejoin="round"/><path d="M-32.8 32.5a10.3 10.3 0 1 0 20.6 0a10.3 10.3 0 1 0 -20.6 0Z" fill="none" stroke="#000" stroke-width="14.5" stroke-linecap="round" stroke-linejoin="round"/><path d="M12.2 32.5a10.3 10.3 0 1 0 20.6 0a10.3 10.3 0 1 0 -20.6 0Z" fill="none" stroke="#000" stroke-width="14.5" stroke-linecap="round" stroke-linejoin="round"/></g><g transform="translate(859.00 1777.50) scale(0.5279)"><path d="M-19 -22C-36 2 -30 43 0 43C30 43 36 2 19 -22" fill="none" stroke="#000" stroke-width="14.5" stroke-linecap="round" stroke-linejoin="round"/><path d="M-32.8 -32.5a10.3 10.3 0 1 0 20.6 0a10.3 10.3 0 1 0 -20.6 0Z" fill="none" stroke="#000" stroke-width="14.5" stroke-linecap="round" stroke-linejoin="round"/><path d="M12.2 -32.5a10.3 10.3 0 1 0 20.6 0a10.3 10.3 0 1 0 -20.6 0Z" fill="none" stroke="#000" stroke-width="14.5" stroke-linecap="round" stroke-linejoin="round"/></g><g transform="translate(170.00 1777.50) scale(0.5279)"><path d="M-19 -22C-36 2 -30 43 0 43C30 43 36 2 19 -22" fill="none" stroke="#000" stroke-width="14.5" stroke-linecap="round" stroke-linejoin="round"/><path d="M-32.8 -32.5a10.3 10.3 0 1 0 20.6 0a10.3 10.3 0 1 0 -20.6 0Z" fill="none" stroke="#000" stroke-width="14.5" stroke-linecap="round" stroke-linejoin="round"/><path d="M12.2 -32.5a10.3 10.3 0 1 0 20.6 0a10.3 10.3 0 1 0 -20.6 0Z" fill="none" stroke="#000" stroke-width="14.5" stroke-linecap="round" stroke-linejoin="round"/></g><text transform="translate(938.6 1882.3) scale(0.62 1)" x="0" y="0" font-size="70.5" text-anchor="middle" stroke="#000" stroke-width="2.12">As</text><text transform="translate(170.0 1882.3) scale(0.62 1)" x="0" y="0" font-size="70.5" text-anchor="middle" stroke="#000" stroke-width="2.12">As</text><text transform="translate(1012.4 1955.3) scale(0.62 1)" x="0" y="0" font-size="70.5" text-anchor="middle" stroke="#000" stroke-width="2.12">Mc</text><text transform="translate(170.0 1955.3) scale(0.62 1)" x="0" y="0" font-size="70.5" text-anchor="middle" stroke="#000" stroke-width="2.12">Mc</text><g transform="translate(1093.30 2009.50) scale(0.5279)"><path d="M-42.5 0.0a42.5 42.5 0 1 0 85.0 0a42.5 42.5 0 1 0 -85.0 0Z" fill="none" stroke="#000" stroke-width="14.5" stroke-linecap="round" stroke-linejoin="round"/><path d="M-29 -29L29 29M29 -29L-29 29" fill="none" stroke="#000" stroke-width="14.5" stroke-linecap="round" stroke-linejoin="round"/></g><g transform="translate(170.00 2009.50) scale(0.5279)"><path d="M-42.5 0.0a42.5 42.5 0 1 0 85.0 0a42.5 42.5 0 1 0 -85.0 0Z" fill="none" stroke="#000" stroke-width="14.5" stroke-linecap="round" stroke-linejoin="round"/><path d="M-29 -29L29 29M29 -29L-29 29" fill="none" stroke="#000" stroke-width="14.5" stroke-linecap="round" stroke-linejoin="round"/></g><g transform="translate(244.00 1294.45) scale(0.2560)"><path d="M-47 0H47M-27 -33L27 33M27 -33L-27 33" fill="none" stroke="#0000ff" stroke-width="14.5" stroke-linecap="butt"/></g><text x="217.7" y="1336.4" font-size="24.57" stroke="#000" stroke-width="0.45" letter-spacing="-0.92">3S02</text><g transform="translate(321.00 1294.45) scale(0.2688)"><path d="M-35.5 15.0a22.5 22.5 0 1 0 45.0 0a22.5 22.5 0 1 0 -45.0 0Z" fill="none" stroke="#000" stroke-width="13" stroke-linecap="round" stroke-linejoin="round"/><path d="M4 -2L36 -37" fill="none" stroke="#000" stroke-width="13" stroke-linecap="round" stroke-linejoin="round"/></g><text x="287.5" y="1336.4" font-size="24.57" stroke="#000" stroke-width="0.45" letter-spacing="-0.86">14A24</text><g transform="translate(244.00 1370.85) scale(0.2688)"><path d="M-35.5 15.0a22.5 22.5 0 1 0 45.0 0a22.5 22.5 0 1 0 -45.0 0Z" fill="none" stroke="#000" stroke-width="13" stroke-linecap="round" stroke-linejoin="round"/><path d="M4 -2L36 -37" fill="none" stroke="#000" stroke-width="13" stroke-linecap="round" stroke-linejoin="round"/></g><text x="217.5" y="1412.8" font-size="24.57" stroke="#000" stroke-width="0.45" letter-spacing="-0.92">7A43</text><g transform="translate(321.00 1447.25) scale(0.2688)"><path d="M-35.5 15.0a22.5 22.5 0 1 0 45.0 0a22.5 22.5 0 1 0 -45.0 0Z" fill="none" stroke="#000" stroke-width="13" stroke-linecap="round" stroke-linejoin="round"/><path d="M4 -2L36 -37" fill="none" stroke="#000" stroke-width="13" stroke-linecap="round" stroke-linejoin="round"/></g><text x="294.5" y="1489.2" font-size="24.57" stroke="#000" stroke-width="0.45" letter-spacing="-0.92">7S09</text><g transform="translate(241.06 1523.65) scale(0.2662)"><path d="M-33 -36H33V36H-33Z" fill="none" stroke="#ff0000" stroke-width="13" stroke-linejoin="miter"/></g><text x="217.5" y="1565.5" font-size="24.57" stroke="#000" stroke-width="0.45" letter-spacing="-0.92">6A23</text><g transform="translate(321.00 1523.65) scale(0.2560)"><path d="M-47 0H47M-27 -33L27 33M27 -33L-27 33" fill="none" stroke="#0000ff" stroke-width="14.5" stroke-linecap="butt"/></g><text x="294.4" y="1565.5" font-size="24.57" stroke="#000" stroke-width="0.45" letter-spacing="-0.92">6S10</text><g transform="translate(472.06 1523.65) scale(0.2662)"><path d="M-33 -36H33V36H-33Z" fill="none" stroke="#ff0000" stroke-width="13" stroke-linejoin="miter"/></g><text x="448.1" y="1565.5" font-size="24.57" stroke="#000" stroke-width="0.45" letter-spacing="-0.91">1S20</text><g transform="translate(552.00 1523.65) scale(0.2560)"><path d="M-47 0H47M-27 -33L27 33M27 -33L-27 33" fill="none" stroke="#0000ff" stroke-width="14.5" stroke-linecap="butt"/></g><text x="525.7" y="1565.5" font-size="24.57" stroke="#000" stroke-width="0.45" letter-spacing="-0.92">0A59</text><g transform="translate(321.00 1601.33) scale(0.2560)"><path d="M0 -34L37 34H-37Z" fill="none" stroke="#0000ff" stroke-width="13" stroke-linejoin="miter"/></g><text x="294.8" y="1642.0" font-size="24.57" stroke="#000" stroke-width="0.45" letter-spacing="-0.93">4S35</text><g transform="translate(552.00 1601.33) scale(0.2560)"><path d="M0 -34L37 34H-37Z" fill="none" stroke="#0000ff" stroke-width="13" stroke-linejoin="miter"/></g><text x="525.5" y="1642.0" font-size="24.57" stroke="#000" stroke-width="0.45" letter-spacing="-0.92">2A33</text><g transform="translate(629.00 1600.05) scale(0.2560)"><path d="M-47 0H47M-27 -33L27 33M27 -33L-27 33" fill="none" stroke="#0000ff" stroke-width="14.5" stroke-linecap="butt"/></g><text x="602.0" y="1642.0" font-size="24.57" stroke="#000" stroke-width="0.45" letter-spacing="-0.91">1A34</text><g transform="translate(321.00 1676.45) scale(0.2688)"><path d="M-35.5 15.0a22.5 22.5 0 1 0 45.0 0a22.5 22.5 0 1 0 -45.0 0Z" fill="none" stroke="#000" stroke-width="13" stroke-linecap="round" stroke-linejoin="round"/><path d="M4 -2L36 -37" fill="none" stroke="#000" stroke-width="13" stroke-linecap="round" stroke-linejoin="round"/></g><text x="294.1" y="1718.4" font-size="24.57" stroke="#000" stroke-width="0.45" letter-spacing="-0.91">1S45</text><g transform="translate(552.00 1676.45) scale(0.2688)"><path d="M-35.5 15.0a22.5 22.5 0 1 0 45.0 0a22.5 22.5 0 1 0 -45.0 0Z" fill="none" stroke="#000" stroke-width="13" stroke-linecap="round" stroke-linejoin="round"/><path d="M4 -2L36 -37" fill="none" stroke="#000" stroke-width="13" stroke-linecap="round" stroke-linejoin="round"/></g><text x="525.5" y="1718.4" font-size="24.57" stroke="#000" stroke-width="0.45" letter-spacing="-0.93">5A24</text><g transform="translate(629.00 1676.45) scale(0.2560)"><path d="M-47 0H47M-27 -33L27 33M27 -33L-27 33" fill="none" stroke="#0000ff" stroke-width="14.5" stroke-linecap="butt"/></g><text x="602.8" y="1718.4" font-size="24.57" stroke="#000" stroke-width="0.45" letter-spacing="-0.93">4A25</text><g transform="translate(706.00 1677.73) scale(0.2560)"><path d="M0 -34L37 34H-37Z" fill="none" stroke="#0000ff" stroke-width="13" stroke-linejoin="miter"/></g><text x="679.4" y="1718.4" font-size="24.57" stroke="#000" stroke-width="0.45" letter-spacing="-0.92">2A50</text><g transform="translate(321.00 1752.85) scale(0.2893)"><path d="M-33.5 19.0a12.5 12.5 0 1 0 25.0 0a12.5 12.5 0 1 0 -25.0 0Z" fill="none" stroke="#ff0000" stroke-width="13" stroke-linecap="round" stroke-linejoin="round"/><path d="M8.5 -19.0a12.5 12.5 0 1 0 25.0 0a12.5 12.5 0 1 0 -25.0 0Z" fill="none" stroke="#ff0000" stroke-width="13" stroke-linecap="round" stroke-linejoin="round"/><path d="M-12 10L12 -10" fill="none" stroke="#ff0000" stroke-width="13" stroke-linecap="round" stroke-linejoin="round"/></g><text x="294.1" y="1794.8" font-size="24.57" stroke="#000" stroke-width="0.45" letter-spacing="-0.91">1S45</text><g transform="translate(552.00 1752.85) scale(0.2893)"><path d="M-33.5 19.0a12.5 12.5 0 1 0 25.0 0a12.5 12.5 0 1 0 -25.0 0Z" fill="none" stroke="#ff0000" stroke-width="13" stroke-linecap="round" stroke-linejoin="round"/><path d="M8.5 -19.0a12.5 12.5 0 1 0 25.0 0a12.5 12.5 0 1 0 -25.0 0Z" fill="none" stroke="#ff0000" stroke-width="13" stroke-linecap="round" stroke-linejoin="round"/><path d="M-12 10L12 -10" fill="none" stroke="#ff0000" stroke-width="13" stroke-linecap="round" stroke-linejoin="round"/></g><text x="525.5" y="1794.8" font-size="24.57" stroke="#000" stroke-width="0.45" letter-spacing="-0.93">5A24</text><g transform="translate(629.00 1754.13) scale(0.2560)"><path d="M0 -34L37 34H-37Z" fill="none" stroke="#0000ff" stroke-width="13" stroke-linejoin="miter"/></g><text x="602.8" y="1794.8" font-size="24.57" stroke="#000" stroke-width="0.45" letter-spacing="-0.93">4A25</text><g transform="translate(706.00 1752.85) scale(0.2560)"><path d="M-47 0H47M-27 -33L27 33M27 -33L-27 33" fill="none" stroke="#0000ff" stroke-width="14.5" stroke-linecap="butt"/></g><text x="679.4" y="1794.8" font-size="24.57" stroke="#000" stroke-width="0.45" letter-spacing="-0.92">2A50</text><g transform="translate(241.06 1829.25) scale(0.2662)"><path d="M-33 -36H33V36H-33Z" fill="none" stroke="#ff0000" stroke-width="13" stroke-linejoin="miter"/></g><text x="217.6" y="1871.2" font-size="24.57" stroke="#000" stroke-width="0.45" letter-spacing="-0.92">0A53</text><g transform="translate(321.00 1829.25) scale(0.2560)"><path d="M-47 0H47M-27 -33L27 33M27 -33L-27 33" fill="none" stroke="#0000ff" stroke-width="14.5" stroke-linecap="butt"/></g><text x="287.7" y="1871.2" font-size="24.57" stroke="#000" stroke-width="0.45" letter-spacing="-0.85">13A26</text><g transform="translate(472.06 1829.25) scale(0.2662)"><path d="M-33 -36H33V36H-33Z" fill="none" stroke="#ff0000" stroke-width="13" stroke-linejoin="miter"/></g><text x="448.6" y="1871.2" font-size="24.57" stroke="#000" stroke-width="0.45" letter-spacing="-0.92">8A36</text><g transform="translate(552.00 1829.25) scale(0.2560)"><path d="M-47 0H47M-27 -33L27 33M27 -33L-27 33" fill="none" stroke="#0000ff" stroke-width="14.5" stroke-linecap="butt"/></g><text x="525.5" y="1871.2" font-size="24.57" stroke="#000" stroke-width="0.45" letter-spacing="-0.92">6A16</text><g transform="translate(629.00 1829.25) scale(0.2688)"><path d="M-35.5 15.0a22.5 22.5 0 1 0 45.0 0a22.5 22.5 0 1 0 -45.0 0Z" fill="none" stroke="#000" stroke-width="13" stroke-linecap="round" stroke-linejoin="round"/><path d="M4 -2L36 -37" fill="none" stroke="#000" stroke-width="13" stroke-linecap="round" stroke-linejoin="round"/></g><text x="602.5" y="1871.2" font-size="24.57" stroke="#000" stroke-width="0.45" letter-spacing="-0.92">7A16</text><g transform="translate(706.00 1829.25) scale(0.2560)"><path d="M-47 0H47M-27 -33L27 33M27 -33L-27 33" fill="none" stroke="#0000ff" stroke-width="14.5" stroke-linecap="butt"/></g><text x="679.5" y="1871.2" font-size="24.57" stroke="#000" stroke-width="0.45" letter-spacing="-0.92">8A50</text><g transform="translate(783.00 1829.25) scale(0.2560)"><path d="M-47 0H47M-27 -33L27 33M27 -33L-27 33" fill="none" stroke="#0000ff" stroke-width="14.5" stroke-linecap="butt"/></g><text x="750.6" y="1871.2" font-size="24.57" stroke="#000" stroke-width="0.45" letter-spacing="-0.83">11A41</text><g transform="translate(860.00 1830.53) scale(0.2560)"><path d="M0 -34L37 34H-37Z" fill="none" stroke="#0000ff" stroke-width="13" stroke-linejoin="miter"/></g><text x="827.6" y="1871.2" font-size="24.57" stroke="#000" stroke-width="0.45" letter-spacing="-0.83">11A41</text><g transform="translate(244.00 1905.65) scale(0.2688)"><path d="M-35.5 15.0a22.5 22.5 0 1 0 45.0 0a22.5 22.5 0 1 0 -45.0 0Z" fill="none" stroke="#000" stroke-width="13" stroke-linecap="round" stroke-linejoin="round"/><path d="M4 -2L36 -37" fill="none" stroke="#000" stroke-width="13" stroke-linecap="round" stroke-linejoin="round"/></g><text x="217.2" y="1947.5" font-size="24.57" stroke="#000" stroke-width="0.45" letter-spacing="-0.91">1S08</text><g transform="translate(398.00 1905.65) scale(0.2560)"><path d="M-47 0H47M-27 -33L27 33M27 -33L-27 33" fill="none" stroke="#0000ff" stroke-width="14.5" stroke-linecap="butt"/></g><text x="371.8" y="1947.5" font-size="24.57" stroke="#000" stroke-width="0.45" letter-spacing="-0.93">4S10</text><g transform="translate(475.00 1905.65) scale(0.2688)"><path d="M-35.5 15.0a22.5 22.5 0 1 0 45.0 0a22.5 22.5 0 1 0 -45.0 0Z" fill="none" stroke="#000" stroke-width="13" stroke-linecap="round" stroke-linejoin="round"/><path d="M4 -2L36 -37" fill="none" stroke="#000" stroke-width="13" stroke-linecap="round" stroke-linejoin="round"/></g><text x="448.5" y="1947.5" font-size="24.57" stroke="#000" stroke-width="0.45" letter-spacing="-0.92">6A35</text><g transform="translate(626.06 1905.65) scale(0.2662)"><path d="M-33 -36H33V36H-33Z" fill="none" stroke="#ff0000" stroke-width="13" stroke-linejoin="miter"/></g><text x="602.6" y="1947.5" font-size="24.57" stroke="#000" stroke-width="0.45" letter-spacing="-0.92">5A15</text><g transform="translate(934.06 1905.65) scale(0.2662)"><path d="M-33 -36H33V36H-33Z" fill="none" stroke="#ff0000" stroke-width="13" stroke-linejoin="miter"/></g><text x="910.6" y="1947.5" font-size="24.57" stroke="#000" stroke-width="0.45" letter-spacing="-0.92">2S01</text><g transform="translate(244.00 1982.05) scale(0.2560)"><path d="M-47 0H47M-27 -33L27 33M27 -33L-27 33" fill="none" stroke="#0000ff" stroke-width="14.5" stroke-linecap="butt"/></g><text x="210.7" y="2024.0" font-size="24.57" stroke="#000" stroke-width="0.45" letter-spacing="-0.85">13A26</text><g transform="translate(321.00 1982.05) scale(0.2688)"><path d="M-35.5 15.0a22.5 22.5 0 1 0 45.0 0a22.5 22.5 0 1 0 -45.0 0Z" fill="none" stroke="#000" stroke-width="13" stroke-linecap="round" stroke-linejoin="round"/><path d="M4 -2L36 -37" fill="none" stroke="#000" stroke-width="13" stroke-linecap="round" stroke-linejoin="round"/></g><text x="294.7" y="2024.0" font-size="24.57" stroke="#000" stroke-width="0.45" letter-spacing="-0.92">3S59</text><g transform="translate(398.00 1982.05) scale(0.2688)"><path d="M-35.5 15.0a22.5 22.5 0 1 0 45.0 0a22.5 22.5 0 1 0 -45.0 0Z" fill="none" stroke="#000" stroke-width="13" stroke-linecap="round" stroke-linejoin="round"/><path d="M4 -2L36 -37" fill="none" stroke="#000" stroke-width="13" stroke-linecap="round" stroke-linejoin="round"/></g><text x="364.5" y="2024.0" font-size="24.57" stroke="#000" stroke-width="0.45" letter-spacing="-0.86">10A24</text><g transform="translate(552.00 1982.05) scale(0.2688)"><path d="M-35.5 15.0a22.5 22.5 0 1 0 45.0 0a22.5 22.5 0 1 0 -45.0 0Z" fill="none" stroke="#000" stroke-width="13" stroke-linecap="round" stroke-linejoin="round"/><path d="M4 -2L36 -37" fill="none" stroke="#000" stroke-width="13" stroke-linecap="round" stroke-linejoin="round"/></g><text x="519.6" y="2024.0" font-size="24.57" stroke="#000" stroke-width="0.45" letter-spacing="-0.83">11S09</text><g transform="translate(706.00 1983.33) scale(0.2560)"><path d="M0 -34L37 34H-37Z" fill="none" stroke="#0000ff" stroke-width="13" stroke-linejoin="miter"/></g><text x="679.6" y="2024.0" font-size="24.57" stroke="#000" stroke-width="0.45" letter-spacing="-0.92">8S35</text><g transform="translate(783.00 1982.05) scale(0.2688)"><path d="M-35.5 15.0a22.5 22.5 0 1 0 45.0 0a22.5 22.5 0 1 0 -45.0 0Z" fill="none" stroke="#000" stroke-width="13" stroke-linecap="round" stroke-linejoin="round"/><path d="M4 -2L36 -37" fill="none" stroke="#000" stroke-width="13" stroke-linecap="round" stroke-linejoin="round"/></g><text x="756.6" y="2024.0" font-size="24.57" stroke="#000" stroke-width="0.45" letter-spacing="-0.92">5S45</text><g transform="translate(860.00 1982.05) scale(0.2893)"><path d="M-33.5 19.0a12.5 12.5 0 1 0 25.0 0a12.5 12.5 0 1 0 -25.0 0Z" fill="none" stroke="#ff0000" stroke-width="13" stroke-linecap="round" stroke-linejoin="round"/><path d="M8.5 -19.0a12.5 12.5 0 1 0 25.0 0a12.5 12.5 0 1 0 -25.0 0Z" fill="none" stroke="#ff0000" stroke-width="13" stroke-linecap="round" stroke-linejoin="round"/><path d="M-12 10L12 -10" fill="none" stroke="#ff0000" stroke-width="13" stroke-linecap="round" stroke-linejoin="round"/></g><text x="833.6" y="2024.0" font-size="24.57" stroke="#000" stroke-width="0.45" letter-spacing="-0.92">5S45</text><rect x="791.4" y="1170.4" width="190.6" height="542.9" fill="#fff" stroke="#000" stroke-width="3"/><rect x="797.3" y="1176.1" width="179.4" height="530.6" fill="none" stroke="#000" stroke-width="3"/><line x1="795.8" y1="1215.4" x2="978.2" y2="1215.4" stroke="#000" stroke-width="3"/><line x1="876.7" y1="1177.6" x2="876.7" y2="1212.5" stroke="#000" stroke-width="3"/><line x1="876.7" y1="1218.5" x2="876.7" y2="1706.7" stroke="#000" stroke-width="3"/><text x="823.3" y="1208.7" font-size="27.83" stroke="#000" stroke-width="0.45" letter-spacing="-0.72">Hs</text><text x="901.2" y="1208.7" font-size="27.83" stroke="#000" stroke-width="0.45" letter-spacing="-0.36">Alm.</text><text x="830.9" y="1249.8" font-size="28.91" stroke="#000" stroke-width="0.45">1</text><g transform="translate(928.00 1243.30) scale(0.2624)"><path d="M-11 -43V13M-27 -26H6M-11 6C-5 -6 10 -10 20 -3C32 6 28 20 18 27C10 33 12 40 24 43" fill="none" stroke="#800000" stroke-width="14.5" stroke-linecap="round" stroke-linejoin="round"/></g><text x="831.3" y="1290.1" font-size="28.91" stroke="#000" stroke-width="0.45">2</text><g transform="translate(928.00 1283.60) scale(0.2624)"><path d="M-37.0 13.0a24.5 24.5 0 1 0 49.0 0a24.5 24.5 0 1 0 -49.0 0Z" fill="none" stroke="#ff0000" stroke-width="14.5" stroke-linecap="round" stroke-linejoin="round"/><path d="M5 -5L38 -37M14 -37H38V-13" fill="none" stroke="#ff0000" stroke-width="14.5" stroke-linecap="round" stroke-linejoin="round"/></g><text x="831.3" y="1331.6" font-size="28.91" stroke="#000" stroke-width="0.45">3</text><g transform="translate(928.00 1325.10) scale(0.2624)"><path d="M-27 -43C-8 -41 -4 -26 -9 -15C-14 -3 -24 8 -29 17H29M5 -3V43" fill="none" stroke="#808080" stroke-width="14.5" stroke-linecap="round" stroke-linejoin="round"/></g><text x="831.4" y="1372.1" font-size="28.91" stroke="#000" stroke-width="0.45">4</text><g transform="translate(912.00 1365.60) scale(0.2624)"><path d="M-37.0 13.0a24.5 24.5 0 1 0 49.0 0a24.5 24.5 0 1 0 -49.0 0Z" fill="none" stroke="#ff0000" stroke-width="14.5" stroke-linecap="round" stroke-linejoin="round"/><path d="M5 -5L38 -37M14 -37H38V-13" fill="none" stroke="#ff0000" stroke-width="14.5" stroke-linecap="round" stroke-linejoin="round"/></g><g transform="translate(942.80 1365.60) scale(0.2624)"><path d="M-11 -43V13M-27 -26H6M-11 6C-5 -6 10 -10 20 -3C32 6 28 20 18 27C10 33 12 40 24 43" fill="none" stroke="#800000" stroke-width="14.5" stroke-linecap="round" stroke-linejoin="round"/></g><text x="831.3" y="1413.6" font-size="28.91" stroke="#000" stroke-width="0.45">5</text><g transform="translate(928.00 1407.10) scale(0.2624)"><path d="M-11 -43V13M-27 -26H6M-11 6C-5 -6 10 -10 20 -3C32 6 28 20 18 27C10 33 12 40 24 43" fill="none" stroke="#800000" stroke-width="14.5" stroke-linecap="round" stroke-linejoin="round"/></g><text x="831.2" y="1453.6" font-size="28.91" stroke="#000" stroke-width="0.45">6</text><g transform="translate(928.00 1447.10) scale(0.2624)"><path d="M-23.8 -19.0a23.8 23.8 0 1 0 47.6 0a23.8 23.8 0 1 0 -47.6 0Z" fill="none" stroke="#008080" stroke-width="14.5" stroke-linecap="round" stroke-linejoin="round"/><path d="M0 5V43M-13 26H13" fill="none" stroke="#008080" stroke-width="14.5" stroke-linecap="round" stroke-linejoin="round"/></g><text x="831.2" y="1495.7" font-size="28.91" stroke="#000" stroke-width="0.45">7</text><g transform="translate(928.00 1489.20) scale(0.2624)"><path d="M-42.7 0.0a42.7 42.7 0 1 0 85.4 0a42.7 42.7 0 1 0 -85.4 0Z" fill="none" stroke="#808000" stroke-width="14.5" stroke-linecap="round" stroke-linejoin="round"/><path d="M-9.3 0.0a9.3 9.3 0 1 0 18.6 0a9.3 9.3 0 1 0 -18.6 0Z" fill="#808000"/></g><text x="831.3" y="1536.0" font-size="28.91" stroke="#000" stroke-width="0.45">8</text><g transform="translate(928.00 1529.50) scale(0.2624)"><path d="M-23.8 -19.0a23.8 23.8 0 1 0 47.6 0a23.8 23.8 0 1 0 -47.6 0Z" fill="none" stroke="#008080" stroke-width="14.5" stroke-linecap="round" stroke-linejoin="round"/><path d="M0 5V43M-13 26H13" fill="none" stroke="#008080" stroke-width="14.5" stroke-linecap="round" stroke-linejoin="round"/></g><text x="831.3" y="1578.0" font-size="28.91" stroke="#000" stroke-width="0.45">9</text><g transform="translate(928.00 1571.50) scale(0.2624)"><path d="M-17 -43C-17 -30 -9 -25 0 -25C9 -25 17 -30 17 -43" fill="none" stroke="#800080" stroke-width="14.5" stroke-linecap="round" stroke-linejoin="round"/><path d="M-15.5 -9.5a15.5 15.5 0 1 0 31.0 0a15.5 15.5 0 1 0 -31.0 0Z" fill="none" stroke="#800080" stroke-width="14.5" stroke-linecap="round" stroke-linejoin="round"/><path d="M0 6V43M-16 27H16" fill="none" stroke="#800080" stroke-width="14.5" stroke-linecap="round" stroke-linejoin="round"/></g><text x="823.4" y="1617.1" font-size="28.91" stroke="#000" stroke-width="0.45" letter-spacing="-1.44">10</text><g transform="translate(928.00 1610.60) scale(0.2624)"><path d="M-26 -43C40 -42 40 42 -26 43C4 22 4 -22 -26 -43Z" fill="none" stroke="#808000" stroke-width="14.5" stroke-linecap="round" stroke-linejoin="round"/></g><text x="824.6" y="1659.5" font-size="28.91" stroke="#000" stroke-width="0.45" letter-spacing="-1.32">11</text><g transform="translate(928.00 1653.00) scale(0.2624)"><path d="M-42.7 0.0a42.7 42.7 0 1 0 85.4 0a42.7 42.7 0 1 0 -85.4 0Z" fill="none" stroke="#808000" stroke-width="14.5" stroke-linecap="round" stroke-linejoin="round"/><path d="M-9.3 0.0a9.3 9.3 0 1 0 18.6 0a9.3 9.3 0 1 0 -18.6 0Z" fill="#808000"/></g><text x="823.6" y="1698.9" font-size="28.91" stroke="#000" stroke-width="0.45" letter-spacing="-1.43">12</text><g transform="translate(928.00 1692.40) scale(0.2624)"><path d="M-17 -43C-17 -30 -9 -25 0 -25C9 -25 17 -30 17 -43" fill="none" stroke="#800080" stroke-width="14.5" stroke-linecap="round" stroke-linejoin="round"/><path d="M-15.5 -9.5a15.5 15.5 0 1 0 31.0 0a15.5 15.5 0 1 0 -31.0 0Z" fill="none" stroke="#800080" stroke-width="14.5" stroke-linecap="round" stroke-linejoin="round"/><path d="M0 6V43M-16 27H16" fill="none" stroke="#800080" stroke-width="14.5" stroke-linecap="round" stroke-linejoin="round"/></g><rect x="1853.5" y="572.8" width="372.8" height="355.2" fill="#fff" stroke="#000" stroke-width="3"/><rect x="1859.5" y="578.5" width="361.5" height="343.5" fill="none" stroke="#000" stroke-width="3"/><text x="1954.7" y="607.2" font-size="33.7" stroke="#000" stroke-width="0.45" letter-spacing="-0.90">mediev3.pts</text><line x1="1858.0" y1="614.5" x2="2222.5" y2="614.5" stroke="#000" stroke-width="3"/><line x1="1858.0" y1="652.0" x2="2222.5" y2="652.0" stroke="#000" stroke-width="3"/><line x1="1927.6" y1="617.0" x2="1927.6" y2="649.5" stroke="#000" stroke-width="3"/><line x1="1927.6" y1="655.0" x2="1927.6" y2="922.0" stroke="#000" stroke-width="3"/><line x1="2075.6" y1="617.0" x2="2075.6" y2="649.5" stroke="#000" stroke-width="3"/><line x1="2075.6" y1="655.0" x2="2075.6" y2="922.0" stroke="#000" stroke-width="3"/><text x="1880.4" y="643.9" font-size="32.07" stroke="#000" stroke-width="0.45" letter-spacing="0.05">Pt</text><text x="1945.4" y="643.9" font-size="33.7" stroke="#000" stroke-width="0.45" letter-spacing="-1.21">Antiscia</text><text x="2102.8" y="643.9" font-size="33.15" stroke="#000" stroke-width="0.45" letter-spacing="-0.79">C.Ant.</text><g transform="translate(1894.00 675.70) scale(0.3075)"><path d="M-26 -43C40 -42 40 42 -26 43C4 22 4 -22 -26 -43Z" fill="none" stroke="#808000" stroke-width="14.5" stroke-linecap="round" stroke-linejoin="round"/></g><text x="1943.1" y="683.9" font-size="32.07" fill="#00c0c0" stroke="#00c0c0" stroke-width="0.45" letter-spacing="0.19">16°</text><g transform="translate(2008.00 672.90) scale(0.2310)"><path d="M-38 -42C-15 -36 15 -36 38 -42M-38 42C-15 36 15 36 38 42M-15 -38V38M15 -38V38" fill="none" stroke="#00c0c0" stroke-width="14.5" stroke-linecap="round" stroke-linejoin="round"/></g><text x="2023.1" y="683.9" font-size="32.07" fill="#00c0c0" stroke="#00c0c0" stroke-width="0.45" letter-spacing="0.17">44</text><text x="2087.6" y="683.9" font-size="32.07" fill="#ff0000" stroke="#ff0000" stroke-width="0.45" letter-spacing="0.19">16°</text><g transform="translate(2152.00 672.90) scale(0.2310)"><path d="M-46 44L30 -30" fill="none" stroke="#ff0000" stroke-width="18.1" stroke-linecap="round"/><path d="M-40 10L28 3" fill="none" stroke="#ff0000" stroke-width="14.5" stroke-linecap="round" stroke-linejoin="round"/><path d="M53 -52L2 -47L26 -25L48 -1Z" fill="#ff0000" stroke="#ff0000" stroke-width="6.5" stroke-linejoin="round"/></g><text x="2168.1" y="683.9" font-size="32.07" fill="#ff0000" stroke="#ff0000" stroke-width="0.45" letter-spacing="0.17">44</text><g transform="translate(1894.00 712.20) scale(0.3075)"><path d="M-42.7 0.0a42.7 42.7 0 1 0 85.4 0a42.7 42.7 0 1 0 -85.4 0Z" fill="none" stroke="#808000" stroke-width="14.5" stroke-linecap="round" stroke-linejoin="round"/><path d="M-9.3 0.0a9.3 9.3 0 1 0 18.6 0a9.3 9.3 0 1 0 -18.6 0Z" fill="#808000"/></g><text x="1944.2" y="720.4" font-size="32.07" fill="#808000" stroke="#808000" stroke-width="0.45" letter-spacing="-0.41">04°</text><g transform="translate(2008.00 708.48) scale(0.2310)"><path d="M-29.0 17.0a29.0 29.0 0 1 0 58.0 0a29.0 29.0 0 1 0 -58.0 0Z" fill="none" stroke="#808000" stroke-width="14.5" stroke-linecap="round" stroke-linejoin="round"/><path d="M-33 -46C-28 -24 -13 -12 0 -12C13 -12 28 -24 33 -46" fill="none" stroke="#808000" stroke-width="14.5" stroke-linecap="round" stroke-linejoin="round"/></g><text x="2021.4" y="720.4" font-size="32.07" fill="#808000" stroke="#808000" stroke-width="0.45" letter-spacing="2.19">10</text><text x="2088.7" y="720.4" font-size="32.07" fill="#0000ff" stroke="#0000ff" stroke-width="0.45" letter-spacing="-0.41">04°</text><g transform="translate(2152.00 708.48) scale(0.2310)"><path d="M-60 -34C-58 -44 -56 -43 -56 -30V43M-56 -28C-54 -46 -21 -46 -21 -28V43M-21 -28C-19 -46 14 -46 14 -28V22C14 42 34 48 46 36C54 27 57 16 58 4" fill="none" stroke="#0000ff" stroke-width="14.5" stroke-linecap="round" stroke-linejoin="round"/><path d="M62 -14L38 6L68 20Z" fill="#0000ff" stroke="#0000ff" stroke-width="6.5" stroke-linejoin="round"/></g><text x="2166.4" y="720.4" font-size="32.07" fill="#0000ff" stroke="#0000ff" stroke-width="0.45" letter-spacing="2.19">10</text><g transform="translate(1894.00 751.45) scale(0.3075)"><path d="M-17 -43C-17 -30 -9 -25 0 -25C9 -25 17 -30 17 -43" fill="none" stroke="#800080" stroke-width="14.5" stroke-linecap="round" stroke-linejoin="round"/><path d="M-15.5 -9.5a15.5 15.5 0 1 0 31.0 0a15.5 15.5 0 1 0 -31.0 0Z" fill="none" stroke="#800080" stroke-width="14.5" stroke-linecap="round" stroke-linejoin="round"/><path d="M0 6V43M-16 27H16" fill="none" stroke="#800080" stroke-width="14.5" stroke-linecap="round" stroke-linejoin="round"/></g><text x="1943.1" y="759.6" font-size="32.07" fill="#ff0000" stroke="#ff0000" stroke-width="0.45" letter-spacing="0.19">19°</text><g transform="translate(2008.00 748.65) scale(0.2310)"><path d="M0 43V-12C0 -38 -14 -43 -26 -43C-40 -43 -47 -32 -45 -20M0 -12C0 -38 14 -43 26 -43C40 -43 47 -32 45 -20" fill="none" stroke="#ff0000" stroke-width="14.5" stroke-linecap="round" stroke-linejoin="round"/></g><text x="2023.1" y="759.6" font-size="32.07" fill="#ff0000" stroke="#ff0000" stroke-width="0.45" letter-spacing="0.62">46</text><text x="2087.6" y="759.6" font-size="32.07" fill="#00c0c0" stroke="#00c0c0" stroke-width="0.45" letter-spacing="0.19">19°</text><g transform="translate(2152.00 748.65) scale(0.2310)"><path d="M-55 26H55M-55 2H-17C-24 -28 24 -28 17 2H55" fill="none" stroke="#00c0c0" stroke-width="14.5" stroke-linecap="round" stroke-linejoin="round"/></g><text x="2168.1" y="759.6" font-size="32.07" fill="#00c0c0" stroke="#00c0c0" stroke-width="0.45" letter-spacing="0.62">46</text><g transform="translate(1894.00 788.95) scale(0.3075)"><path d="M-23.8 -19.0a23.8 23.8 0 1 0 47.6 0a23.8 23.8 0 1 0 -47.6 0Z" fill="none" stroke="#008080" stroke-width="14.5" stroke-linecap="round" stroke-linejoin="round"/><path d="M0 5V43M-13 26H13" fill="none" stroke="#008080" stroke-width="14.5" stroke-linecap="round" stroke-linejoin="round"/></g><text x="1944.2" y="797.1" font-size="32.07" fill="#00c0c0" stroke="#00c0c0" stroke-width="0.45" letter-spacing="-0.41">09°</text><g transform="translate(2008.00 786.15) scale(0.2310)"><path d="M-38 -42C-15 -36 15 -36 38 -42M-38 42C-15 36 15 36 38 42M-15 -38V38M15 -38V38" fill="none" stroke="#00c0c0" stroke-width="14.5" stroke-linecap="round" stroke-linejoin="round"/></g><text x="2022.5" y="797.1" font-size="32.07" fill="#00c0c0" stroke="#00c0c0" stroke-width="0.45" letter-spacing="1.01">00</text><text x="2088.7" y="797.1" font-size="32.07" fill="#ff0000" stroke="#ff0000" stroke-width="0.45" letter-spacing="-0.41">09°</text><g transform="translate(2152.00 786.15) scale(0.2310)"><path d="M-46 44L30 -30" fill="none" stroke="#ff0000" stroke-width="18.1" stroke-linecap="round"/><path d="M-40 10L28 3" fill="none" stroke="#ff0000" stroke-width="14.5" stroke-linecap="round" stroke-linejoin="round"/><path d="M53 -52L2 -47L26 -25L48 -1Z" fill="#ff0000" stroke="#ff0000" stroke-width="6.5" stroke-linejoin="round"/></g><text x="2167.5" y="797.1" font-size="32.07" fill="#ff0000" stroke="#ff0000" stroke-width="0.45" letter-spacing="1.01">00</text><g transform="translate(1894.00 828.95) scale(0.3075)"><path d="M-37.0 13.0a24.5 24.5 0 1 0 49.0 0a24.5 24.5 0 1 0 -49.0 0Z" fill="none" stroke="#ff0000" stroke-width="14.5" stroke-linecap="round" stroke-linejoin="round"/><path d="M5 -5L38 -37M14 -37H38V-13" fill="none" stroke="#ff0000" stroke-width="14.5" stroke-linecap="round" stroke-linejoin="round"/></g><text x="1943.1" y="837.1" font-size="32.07" fill="#808000" stroke="#808000" stroke-width="0.45" letter-spacing="1.37">11°</text><g transform="translate(2008.00 825.23) scale(0.2310)"><path d="M-29.0 17.0a29.0 29.0 0 1 0 58.0 0a29.0 29.0 0 1 0 -58.0 0Z" fill="none" stroke="#808000" stroke-width="14.5" stroke-linecap="round" stroke-linejoin="round"/><path d="M-33 -46C-28 -24 -13 -12 0 -12C13 -12 28 -24 33 -46" fill="none" stroke="#808000" stroke-width="14.5" stroke-linecap="round" stroke-linejoin="round"/></g><text x="2022.2" y="837.1" font-size="32.07" fill="#808000" stroke="#808000" stroke-width="0.45" letter-spacing="1.36">20</text><text x="2087.6" y="837.1" font-size="32.07" fill="#0000ff" stroke="#0000ff" stroke-width="0.45" letter-spacing="1.37">11°</text><g transform="translate(2152.00 825.23) scale(0.2310)"><path d="M-60 -34C-58 -44 -56 -43 -56 -30V43M-56 -28C-54 -46 -21 -46 -21 -28V43M-21 -28C-19 -46 14 -46 14 -28V22C14 42 34 48 46 36C54 27 57 16 58 4" fill="none" stroke="#0000ff" stroke-width="14.5" stroke-linecap="round" stroke-linejoin="round"/><path d="M62 -14L38 6L68 20Z" fill="#0000ff" stroke="#0000ff" stroke-width="6.5" stroke-linejoin="round"/></g><text x="2167.2" y="837.1" font-size="32.07" fill="#0000ff" stroke="#0000ff" stroke-width="0.45" letter-spacing="1.36">20</text><g transform="translate(1894.00 865.20) scale(0.3075)"><path d="M-27 -43C-8 -41 -4 -26 -9 -15C-14 -3 -24 8 -29 17H29M5 -3V43" fill="none" stroke="#808080" stroke-width="14.5" stroke-linecap="round" stroke-linejoin="round"/></g><text x="1943.1" y="873.4" font-size="32.07" fill="#0000ff" stroke="#0000ff" stroke-width="0.45" letter-spacing="0.19">10°</text><g transform="translate(2008.00 861.25) scale(0.2310)"><path d="M-46 -43C-10 -25 -10 25 -46 43M46 -43C10 -25 10 25 46 43M-36 0H36" fill="none" stroke="#0000ff" stroke-width="14.5" stroke-linecap="round" stroke-linejoin="round"/></g><text x="2022.2" y="873.4" font-size="32.07" fill="#0000ff" stroke="#0000ff" stroke-width="0.45" letter-spacing="1.36">20</text><text x="2087.6" y="873.4" font-size="32.07" fill="#808000" stroke="#808000" stroke-width="0.45" letter-spacing="0.19">10°</text><g transform="translate(2152.00 860.32) scale(0.2310)"><path d="M-50 43V-26C-50 -48 -19 -48 -19 -26V43M-19 -26C-19 -48 12 -48 12 -26V43M12 -26C14 -50 54 -52 50 -28C46 -8 28 16 14 40" fill="none" stroke="#808000" stroke-width="14.5" stroke-linecap="round" stroke-linejoin="round"/></g><text x="2167.2" y="873.4" font-size="32.07" fill="#808000" stroke="#808000" stroke-width="0.45" letter-spacing="1.36">20</text><g transform="translate(1894.00 905.20) scale(0.3075)"><path d="M-11 -43V13M-27 -26H6M-11 6C-5 -6 10 -10 20 -3C32 6 28 20 18 27C10 33 12 40 24 43" fill="none" stroke="#800000" stroke-width="14.5" stroke-linecap="round" stroke-linejoin="round"/></g><text x="1944.2" y="913.4" font-size="32.07" fill="#808000" stroke="#808000" stroke-width="0.45" letter-spacing="-0.41">08°</text><g transform="translate(2008.00 901.71) scale(0.2310)"><path d="M-42 -32C-25 -40 15 -36 38 -42L-16 0" fill="none" stroke="#808000" stroke-width="14.5" stroke-linecap="round" stroke-linejoin="round"/><path d="M-15.0 22.0a21.0 21.0 0 1 0 42.0 0a21.0 21.0 0 1 0 -42.0 0Z" fill="none" stroke="#808000" stroke-width="14.5" stroke-linecap="round" stroke-linejoin="round"/></g><text x="2023.1" y="913.4" font-size="32.07" fill="#808000" stroke="#808000" stroke-width="0.45" letter-spacing="0.62">46</text><text x="2088.7" y="913.4" font-size="32.07" fill="#0000ff" stroke="#0000ff" stroke-width="0.45" letter-spacing="-0.41">08°</text><g transform="translate(2152.00 900.78) scale(0.2310)"><path d="M-41.0 -13.0a15.0 15.0 0 1 0 30.0 0a15.0 15.0 0 1 0 -30.0 0Z" fill="none" stroke="#0000ff" stroke-width="14.5" stroke-linecap="round" stroke-linejoin="round"/><path d="M11.0 13.0a15.0 15.0 0 1 0 30.0 0a15.0 15.0 0 1 0 -30.0 0Z" fill="none" stroke="#0000ff" stroke-width="14.5" stroke-linecap="round" stroke-linejoin="round"/><path d="M-42 -22C-30 -50 30 -48 48 -20M42 22C30 50 -30 48 -48 20" fill="none" stroke="#0000ff" stroke-width="14.5" stroke-linecap="round" stroke-linejoin="round"/></g><text x="2168.1" y="913.4" font-size="32.07" fill="#0000ff" stroke="#0000ff" stroke-width="0.45" letter-spacing="0.62">46</text><rect x="1845.2" y="927.8" width="318.8" height="354.5" fill="#fff" stroke="#000" stroke-width="3"/><rect x="1851.0" y="933.5" width="307.5" height="343.0" fill="none" stroke="#000" stroke-width="3"/><text x="1917.2" y="960.9" font-size="33.7" stroke="#000" stroke-width="0.45" letter-spacing="-0.90">mediev3.pts</text><line x1="1849.5" y1="968.5" x2="2160.0" y2="968.5" stroke="#000" stroke-width="3"/><line x1="1849.5" y1="1006.0" x2="2160.0" y2="1006.0" stroke="#000" stroke-width="3"/><line x1="1918.5" y1="971.0" x2="1918.5" y2="1003.5" stroke="#000" stroke-width="3"/><line x1="1918.5" y1="1009.0" x2="1918.5" y2="1276.5" stroke="#000" stroke-width="3"/><line x1="2038.5" y1="971.0" x2="2038.5" y2="1003.5" stroke="#000" stroke-width="3"/><line x1="2038.5" y1="1009.0" x2="2038.5" y2="1276.5" stroke="#000" stroke-width="3"/><text x="1871.2" y="997.9" font-size="32.07" stroke="#000" stroke-width="0.45" letter-spacing="0.75">Pt</text><text x="1934.3" y="997.9" font-size="33.7" stroke="#000" stroke-width="0.45" letter-spacing="-0.62">Travel</text><text x="2069.7" y="997.9" font-size="33.7" stroke="#000" stroke-width="0.45" letter-spacing="-0.13">Lat.</text><g transform="translate(1885.75 1028.75) scale(0.3075)"><path d="M-26 -43C40 -42 40 42 -26 43C4 22 4 -22 -26 -43Z" fill="none" stroke="#808000" stroke-width="14.5" stroke-linecap="round" stroke-linejoin="round"/></g><text x="1923.5" y="1037.2" font-size="32.07" stroke="#000" stroke-width="0.45" letter-spacing="0.48">+14°30'</text><text x="2042.9" y="1037.2" font-size="32.07" stroke="#000" stroke-width="0.45" letter-spacing="0.36">−03°28'</text><g transform="translate(1885.75 1065.50) scale(0.3075)"><path d="M-42.7 0.0a42.7 42.7 0 1 0 85.4 0a42.7 42.7 0 1 0 -85.4 0Z" fill="none" stroke="#808000" stroke-width="14.5" stroke-linecap="round" stroke-linejoin="round"/><path d="M-9.3 0.0a9.3 9.3 0 1 0 18.6 0a9.3 9.3 0 1 0 -18.6 0Z" fill="#808000"/></g><text x="1925.5" y="1073.9" font-size="32.07" stroke="#000" stroke-width="0.45" letter-spacing="-0.07">+57'44"</text><text x="2042.9" y="1073.9" font-size="32.07" stroke="#000" stroke-width="0.45" letter-spacing="0.36">−00°00'</text><g transform="translate(1885.75 1105.00) scale(0.3075)"><path d="M-17 -43C-17 -30 -9 -25 0 -25C9 -25 17 -30 17 -43" fill="none" stroke="#800080" stroke-width="14.5" stroke-linecap="round" stroke-linejoin="round"/><path d="M-15.5 -9.5a15.5 15.5 0 1 0 31.0 0a15.5 15.5 0 1 0 -31.0 0Z" fill="none" stroke="#800080" stroke-width="14.5" stroke-linecap="round" stroke-linejoin="round"/><path d="M0 6V43M-16 27H16" fill="none" stroke="#800080" stroke-width="14.5" stroke-linecap="round" stroke-linejoin="round"/></g><text x="1925.4" y="1113.4" font-size="32.07" stroke="#000" stroke-width="0.45" letter-spacing="-0.06">−30'33"</text><text x="2042.9" y="1113.4" font-size="32.07" stroke="#000" stroke-width="0.45" letter-spacing="0.36">−04°36'</text><g transform="translate(1885.75 1142.00) scale(0.3075)"><path d="M-23.8 -19.0a23.8 23.8 0 1 0 47.6 0a23.8 23.8 0 1 0 -47.6 0Z" fill="none" stroke="#008080" stroke-width="14.5" stroke-linecap="round" stroke-linejoin="round"/><path d="M0 5V43M-13 26H13" fill="none" stroke="#008080" stroke-width="14.5" stroke-linecap="round" stroke-linejoin="round"/></g><text x="1923.5" y="1150.4" font-size="32.07" stroke="#000" stroke-width="0.45" letter-spacing="0.48">+01°10'</text><text x="2042.9" y="1150.4" font-size="32.07" stroke="#000" stroke-width="0.45" letter-spacing="0.36">−00°38'</text><g transform="translate(1885.75 1181.25) scale(0.3075)"><path d="M-37.0 13.0a24.5 24.5 0 1 0 49.0 0a24.5 24.5 0 1 0 -49.0 0Z" fill="none" stroke="#ff0000" stroke-width="14.5" stroke-linecap="round" stroke-linejoin="round"/><path d="M5 -5L38 -37M14 -37H38V-13" fill="none" stroke="#ff0000" stroke-width="14.5" stroke-linecap="round" stroke-linejoin="round"/></g><text x="1925.5" y="1189.7" font-size="32.07" stroke="#000" stroke-width="0.45" letter-spacing="-0.07">+38'18"</text><text x="2043.0" y="1189.7" font-size="32.07" stroke="#000" stroke-width="0.45" letter-spacing="0.35">+01°08'</text><g transform="translate(1885.75 1218.00) scale(0.3075)"><path d="M-27 -43C-8 -41 -4 -26 -9 -15C-14 -3 -24 8 -29 17H29M5 -3V43" fill="none" stroke="#808080" stroke-width="14.5" stroke-linecap="round" stroke-linejoin="round"/></g><text x="1925.5" y="1226.4" font-size="32.07" stroke="#000" stroke-width="0.45" letter-spacing="-0.07">+09'55"</text><text x="2043.0" y="1226.4" font-size="32.07" stroke="#000" stroke-width="0.45" letter-spacing="0.35">+01°07'</text><g transform="translate(1885.75 1258.75) scale(0.3075)"><path d="M-11 -43V13M-27 -26H6M-11 6C-5 -6 10 -10 20 -3C32 6 28 20 18 27C10 33 12 40 24 43" fill="none" stroke="#800000" stroke-width="14.5" stroke-linecap="round" stroke-linejoin="round"/></g><text x="1925.4" y="1267.2" font-size="32.07" stroke="#000" stroke-width="0.45" letter-spacing="-0.06">−00'40"</text><text x="2043.0" y="1267.2" font-size="32.07" stroke="#000" stroke-width="0.45" letter-spacing="0.75">+01°11'</text><rect x="1415.2" y="981.0" width="424.2" height="95.5" fill="#fff" stroke="#000" stroke-width="3"/><rect x="1421.0" y="987.0" width="413.0" height="84.0" fill="none" stroke="#000" stroke-width="3"/><text x="1475.8" y="1018.9" font-size="35.33" stroke="#000" stroke-width="0.45" letter-spacing="-0.73">CONSIDERATIONS</text><line x1="1419.5" y1="1025.0" x2="1835.5" y2="1025.0" stroke="#000" stroke-width="2.6"/><text x="1431.6" y="1060.9" font-size="35.87" stroke="#000" stroke-width="0.45" letter-spacing="-0.48">Moon is Fast</text><rect x="1096.0" y="1662.8" width="1543.4" height="165.8" fill="#fff" stroke="#000" stroke-width="3"/><rect x="1102.0" y="1668.5" width="1531.6" height="154.2" fill="none" stroke="#000" stroke-width="3"/><line x1="1148.8" y1="1746.6" x2="2588.8" y2="1746.6" stroke="#000" stroke-width="3.2"/><line x1="1150.2" y1="1716.3" x2="1150.2" y2="1776.3" stroke="#000" stroke-width="3"/><text x="1138.3" y="1800.4" font-size="25.76" stroke="#000" stroke-width="0.45" letter-spacing="-1.10">0°</text><line x1="1198.2" y1="1746.0" x2="1198.2" y2="1761.3" stroke="#000" stroke-width="3"/><line x1="1246.0" y1="1746.0" x2="1246.0" y2="1761.3" stroke="#000" stroke-width="3"/><line x1="1294.0" y1="1746.0" x2="1294.0" y2="1761.3" stroke="#000" stroke-width="3"/><line x1="1341.8" y1="1746.0" x2="1341.8" y2="1761.3" stroke="#000" stroke-width="3"/><line x1="1389.8" y1="1746.0" x2="1389.8" y2="1776.3" stroke="#000" stroke-width="3"/><text x="1377.7" y="1800.4" font-size="25.76" stroke="#000" stroke-width="0.45" letter-spacing="-1.10">5°</text><line x1="1437.7" y1="1746.0" x2="1437.7" y2="1761.3" stroke="#000" stroke-width="3"/><line x1="1485.5" y1="1746.0" x2="1485.5" y2="1761.3" stroke="#000" stroke-width="3"/><line x1="1533.5" y1="1746.0" x2="1533.5" y2="1761.3" stroke="#000" stroke-width="3"/><line x1="1581.3" y1="1746.0" x2="1581.3" y2="1761.3" stroke="#000" stroke-width="3"/><line x1="1629.2" y1="1746.0" x2="1629.2" y2="1776.3" stroke="#000" stroke-width="3"/><text x="1611.0" y="1800.4" font-size="25.76" stroke="#000" stroke-width="0.45" letter-spacing="-0.89">10°</text><line x1="1677.2" y1="1746.0" x2="1677.2" y2="1761.3" stroke="#000" stroke-width="3"/><line x1="1725.0" y1="1746.0" x2="1725.0" y2="1761.3" stroke="#000" stroke-width="3"/><line x1="1772.9" y1="1746.0" x2="1772.9" y2="1761.3" stroke="#000" stroke-width="3"/><line x1="1820.8" y1="1746.0" x2="1820.8" y2="1761.3" stroke="#000" stroke-width="3"/><line x1="1868.8" y1="1746.0" x2="1868.8" y2="1776.3" stroke="#000" stroke-width="3"/><text x="1850.5" y="1800.4" font-size="25.76" stroke="#000" stroke-width="0.45" letter-spacing="-0.89">15°</text><line x1="1916.7" y1="1746.0" x2="1916.7" y2="1761.3" stroke="#000" stroke-width="3"/><line x1="1964.5" y1="1746.0" x2="1964.5" y2="1761.3" stroke="#000" stroke-width="3"/><line x1="2012.4" y1="1746.0" x2="2012.4" y2="1761.3" stroke="#000" stroke-width="3"/><line x1="2060.3" y1="1746.0" x2="2060.3" y2="1761.3" stroke="#000" stroke-width="3"/><line x1="2108.2" y1="1746.0" x2="2108.2" y2="1776.3" stroke="#000" stroke-width="3"/><text x="2090.3" y="1800.4" font-size="25.76" stroke="#000" stroke-width="0.45" letter-spacing="-0.90">20°</text><line x1="2156.2" y1="1746.0" x2="2156.2" y2="1761.3" stroke="#000" stroke-width="3"/><line x1="2204.1" y1="1746.0" x2="2204.1" y2="1761.3" stroke="#000" stroke-width="3"/><line x1="2251.9" y1="1746.0" x2="2251.9" y2="1761.3" stroke="#000" stroke-width="3"/><line x1="2299.8" y1="1746.0" x2="2299.8" y2="1761.3" stroke="#000" stroke-width="3"/><line x1="2347.8" y1="1746.0" x2="2347.8" y2="1776.3" stroke="#000" stroke-width="3"/><text x="2329.8" y="1800.4" font-size="25.76" stroke="#000" stroke-width="0.45" letter-spacing="-0.90">25°</text><line x1="2395.6" y1="1746.0" x2="2395.6" y2="1761.3" stroke="#000" stroke-width="3"/><line x1="2443.6" y1="1746.0" x2="2443.6" y2="1761.3" stroke="#000" stroke-width="3"/><line x1="2491.4" y1="1746.0" x2="2491.4" y2="1761.3" stroke="#000" stroke-width="3"/><line x1="2539.3" y1="1746.0" x2="2539.3" y2="1761.3" stroke="#000" stroke-width="3"/><line x1="2587.2" y1="1716.3" x2="2587.2" y2="1776.3" stroke="#000" stroke-width="3"/><text x="2569.5" y="1800.4" font-size="25.76" stroke="#000" stroke-width="0.45" letter-spacing="-0.91">30°</text><line x1="1639.8" y1="1724.5" x2="1639.8" y2="1746.0" stroke="#800080" stroke-width="2.6"/><g transform="translate(1639.79 1711.00) scale(0.2152)"><path d="M-17 -43C-17 -30 -9 -25 0 -25C9 -25 17 -30 17 -43" fill="none" stroke="#800080" stroke-width="14.5" stroke-linecap="round" stroke-linejoin="round"/><path d="M-15.5 -9.5a15.5 15.5 0 1 0 31.0 0a15.5 15.5 0 1 0 -31.0 0Z" fill="none" stroke="#800080" stroke-width="14.5" stroke-linecap="round" stroke-linejoin="round"/><path d="M0 6V43M-16 27H16" fill="none" stroke="#800080" stroke-width="14.5" stroke-linecap="round" stroke-linejoin="round"/></g><line x1="1784.9" y1="1724.5" x2="1784.9" y2="1746.0" stroke="#808000" stroke-width="2.6"/><g transform="translate(1784.92 1711.00) scale(0.2255)"><path d="M-26 -43C40 -42 40 42 -26 43C4 22 4 -22 -26 -43Z" fill="none" stroke="#808000" stroke-width="14.5" stroke-linecap="round" stroke-linejoin="round"/></g><path d="M1788.3 1746V1736.5L1819.4 1724.5" fill="none" stroke="#008080" stroke-width="2.6"/><g transform="translate(1821.40 1711.00) scale(0.2152)"><path d="M-30 -43C-30 -5 -18 5 0 5C18 5 30 -5 30 -43M0 -43V43M-17 26H17" fill="none" stroke="#008080" stroke-width="14.5" stroke-linecap="round" stroke-linejoin="round"/></g><line x1="1975.6" y1="1724.5" x2="1975.6" y2="1746.0" stroke="#800000" stroke-width="2.6"/><g transform="translate(1975.57 1711.00) scale(0.2152)"><path d="M-32 -40C-32 -5 -15 8 0 8C15 8 32 -5 32 -40M0 8V43M-16 27H16" fill="none" stroke="#800000" stroke-width="14.5" stroke-linecap="round" stroke-linejoin="round"/><path d="M-11.5 -25.0a11.5 11.5 0 1 0 23.0 0a11.5 11.5 0 1 0 -23.0 0Z" fill="none" stroke="#800000" stroke-width="14.5" stroke-linecap="round" stroke-linejoin="round"/></g><line x1="2043.6" y1="1724.5" x2="2043.6" y2="1746.0" stroke="#ff0000" stroke-width="2.6"/><g transform="translate(2043.59 1711.00) scale(0.2152)"><path d="M-37.0 13.0a24.5 24.5 0 1 0 49.0 0a24.5 24.5 0 1 0 -49.0 0Z" fill="none" stroke="#ff0000" stroke-width="14.5" stroke-linecap="round" stroke-linejoin="round"/><path d="M5 -5L38 -37M14 -37H38V-13" fill="none" stroke="#ff0000" stroke-width="14.5" stroke-linecap="round" stroke-linejoin="round"/></g><line x1="2091.5" y1="1724.5" x2="2091.5" y2="1746.0" stroke="#808080" stroke-width="2.6"/><g transform="translate(2091.48 1711.00) scale(0.2152)"><path d="M-27 -43C-8 -41 -4 -26 -9 -15C-14 -3 -24 8 -29 17H29M5 -3V43" fill="none" stroke="#808080" stroke-width="14.5" stroke-linecap="round" stroke-linejoin="round"/></g><line x1="2155.2" y1="1724.5" x2="2155.2" y2="1746.0" stroke="#008080" stroke-width="2.6"/><g transform="translate(2155.19 1711.00) scale(0.2152)"><path d="M-23.8 -19.0a23.8 23.8 0 1 0 47.6 0a23.8 23.8 0 1 0 -47.6 0Z" fill="none" stroke="#008080" stroke-width="14.5" stroke-linecap="round" stroke-linejoin="round"/><path d="M0 5V43M-13 26H13" fill="none" stroke="#008080" stroke-width="14.5" stroke-linecap="round" stroke-linejoin="round"/></g><path d="M2166.7 1746V1736.5L2189.0 1724.5" fill="none" stroke="#800000" stroke-width="2.6"/><g transform="translate(2191.00 1711.00) scale(0.2152)"><path d="M-11 -43V13M-27 -26H6M-11 6C-5 -6 10 -10 20 -3C32 6 28 20 18 27C10 33 12 40 24 43" fill="none" stroke="#800000" stroke-width="14.5" stroke-linecap="round" stroke-linejoin="round"/></g><line x1="2303.2" y1="1724.5" x2="2303.2" y2="1746.0" stroke="#000" stroke-width="2.6"/><g transform="translate(2303.20 1711.00) scale(0.2152)"><path d="M-19 22C-36 -2 -30 -43 0 -43C30 -43 36 -2 19 22" fill="none" stroke="#000" stroke-width="14.5" stroke-linecap="round" stroke-linejoin="round"/><path d="M-32.8 32.5a10.3 10.3 0 1 0 20.6 0a10.3 10.3 0 1 0 -20.6 0Z" fill="none" stroke="#000" stroke-width="14.5" stroke-linecap="round" stroke-linejoin="round"/><path d="M12.2 32.5a10.3 10.3 0 1 0 20.6 0a10.3 10.3 0 1 0 -20.6 0Z" fill="none" stroke="#000" stroke-width="14.5" stroke-linecap="round" stroke-linejoin="round"/></g><line x1="2387.0" y1="1724.5" x2="2387.0" y2="1746.0" stroke="#808000" stroke-width="2.6"/><g transform="translate(2387.03 1711.00) scale(0.2255)"><path d="M-42.7 0.0a42.7 42.7 0 1 0 85.4 0a42.7 42.7 0 1 0 -85.4 0Z" fill="none" stroke="#808000" stroke-width="14.5" stroke-linecap="round" stroke-linejoin="round"/><path d="M-9.3 0.0a9.3 9.3 0 1 0 18.6 0a9.3 9.3 0 1 0 -18.6 0Z" fill="#808000"/></g><line x1="2511.6" y1="1724.5" x2="2511.6" y2="1746.0" stroke="#0000ff" stroke-width="2.6"/><g transform="translate(2511.57 1711.00) scale(0.2152)"><path d="M-26 -43C-12 -30 -12 -5 -26 8M26 -43C12 -30 12 -5 26 8M-16 -17H16M0 -43V18" fill="none" stroke="#0000ff" stroke-width="14.5" stroke-linecap="round" stroke-linejoin="round"/><path d="M-11.5 31.0a11.5 11.5 0 1 0 23.0 0a11.5 11.5 0 1 0 -23.0 0Z" fill="none" stroke="#0000ff" stroke-width="14.5" stroke-linecap="round" stroke-linejoin="round"/></g><path d="M2578.6 1746V1737L2573.0 1725.5" fill="none" stroke="#000" stroke-width="2.6"/><g transform="translate(2570.50 1711.00) scale(0.2255)"><path d="M-42.5 0.0a42.5 42.5 0 1 0 85.0 0a42.5 42.5 0 1 0 -85.0 0Z" fill="none" stroke="#000" stroke-width="14.5" stroke-linecap="round" stroke-linejoin="round"/><path d="M-29 -29L29 29M29 -29L-29 29" fill="none" stroke="#000" stroke-width="14.5" stroke-linecap="round" stroke-linejoin="round"/></g><rect x="1252.5" y="1852.5" width="342.0" height="174.5" fill="#fff" stroke="#000" stroke-width="2.6"/><rect x="1258.2" y="1858.2" width="330.5" height="163.0" fill="none" stroke="#000" stroke-width="2.6"/><line x1="1257.0" y1="1897.5" x2="1590.0" y2="1897.5" stroke="#000" stroke-width="2.6"/><line x1="1257.0" y1="1936.2" x2="1590.0" y2="1936.2" stroke="#000" stroke-width="2.6"/><text x="1276.6" y="1889.7" font-size="35.11" stroke="#000" stroke-width="0.45" letter-spacing="0.07">Day of</text><g transform="translate(1406.75 1881.00) scale(0.3280)"><path d="M-23.8 -19.0a23.8 23.8 0 1 0 47.6 0a23.8 23.8 0 1 0 -47.6 0Z" fill="none" stroke="#008080" stroke-width="14.5" stroke-linecap="round" stroke-linejoin="round"/><path d="M0 5V43M-13 26H13" fill="none" stroke="#008080" stroke-width="14.5" stroke-linecap="round" stroke-linejoin="round"/></g><text x="1428.3" y="1889.7" font-size="35.87" stroke="#000" stroke-width="0.45" letter-spacing="-1.21">Hour of</text><g transform="translate(1567.00 1881.00) scale(0.3280)"><path d="M-11 -43V13M-27 -26H6M-11 6C-5 -6 10 -10 20 -3C32 6 28 20 18 27C10 33 12 40 24 43" fill="none" stroke="#800000" stroke-width="14.5" stroke-linecap="round" stroke-linejoin="round"/></g><text x="1304.7" y="1929.7" font-size="35.87" stroke="#000" stroke-width="0.45" letter-spacing="-1.04">4th Hour of Day</text><text x="1279.6" y="1969.7" font-size="35.11" stroke="#000" stroke-width="0.45" letter-spacing="-0.15">Last Hr</text><g transform="translate(1422.00 1959.75) scale(0.3126)"><path d="M-26 -43C40 -42 40 42 -26 43C4 22 4 -22 -26 -43Z" fill="none" stroke="#808000" stroke-width="14.5" stroke-linecap="round" stroke-linejoin="round"/></g><text x="1450.2" y="1969.7" font-size="35.87" stroke="#000" stroke-width="0.45" letter-spacing="-0.78">−33 mins</text><text x="1275.1" y="2012.9" font-size="35.11" stroke="#000" stroke-width="0.45" letter-spacing="-0.21">Next Hr</text><g transform="translate(1419.00 2003.00) scale(0.3208)"><path d="M-27 -43C-8 -41 -4 -26 -9 -15C-14 -3 -24 8 -29 17H29M5 -3V43" fill="none" stroke="#808080" stroke-width="14.5" stroke-linecap="round" stroke-linejoin="round"/></g><text x="1450.3" y="2012.9" font-size="35.87" stroke="#000" stroke-width="0.45" letter-spacing="-0.79">+35 mins</text><rect x="1873.5" y="1832.8" width="667.8" height="239.5" fill="#fff" stroke="#000" stroke-width="3"/><rect x="1879.5" y="1838.5" width="653.9" height="228.0" fill="none" stroke="#000" stroke-width="3"/><text x="2008.0" y="1866.8" font-size="30.87" stroke="#000" stroke-width="0.45" letter-spacing="0.56">NEAREST LUNAR PHASES</text><line x1="1878.0" y1="1874.5" x2="2535.0" y2="1874.5" stroke="#000" stroke-width="3"/><line x1="1878.0" y1="2028.0" x2="2535.0" y2="2028.0" stroke="#000" stroke-width="2.6"/><text x="1907.5" y="1903.4" font-size="30.65" stroke="#000" stroke-width="0.45" letter-spacing="1.56">New</text><text x="2012.5" y="1903.4" font-size="30.65" stroke="#000" stroke-width="0.45" letter-spacing="0.75">Jul 23 2017</text><text x="2205.5" y="1903.4" font-size="30.65" stroke="#000" stroke-width="0.45" letter-spacing="0.83">5:45 am</text><text x="2346.2" y="1903.4" font-size="30.65" fill="#ff0000" stroke="#ff0000" stroke-width="0.45" letter-spacing="1.10">00°</text><g transform="translate(2411.00 1891.71) scale(0.2495)"><path d="M-39.0 14.0a13.0 13.0 0 1 0 26.0 0a13.0 13.0 0 1 0 -26.0 0Z" fill="none" stroke="#ff0000" stroke-width="14.5" stroke-linecap="round" stroke-linejoin="round"/><path d="M-15 5C-36 -28 -10 -50 12 -44C34 -37 26 -5 19 16C11 40 18 62 40 52" fill="none" stroke="#ff0000" stroke-width="14.5" stroke-linecap="round" stroke-linejoin="round"/></g><text x="2427.0" y="1903.4" font-size="30.65" fill="#ff0000" stroke="#ff0000" stroke-width="0.45" letter-spacing="1.48">44</text><text x="1903.9" y="1940.4" font-size="30.65" stroke="#000" stroke-width="0.45" letter-spacing="0.01">1st Q</text><text x="2012.5" y="1940.4" font-size="30.65" stroke="#000" stroke-width="0.45" letter-spacing="0.75">Jul 30 2017</text><text x="2196.3" y="1940.4" font-size="30.65" stroke="#000" stroke-width="0.45" letter-spacing="1.09">11:23 am</text><text x="2346.2" y="1940.4" font-size="30.65" fill="#0000ff" stroke="#0000ff" stroke-width="0.45" letter-spacing="1.10">07°</text><g transform="translate(2411.00 1928.48) scale(0.2310)"><path d="M-60 -34C-58 -44 -56 -43 -56 -30V43M-56 -28C-54 -46 -21 -46 -21 -28V43M-21 -28C-19 -46 14 -46 14 -28V22C14 42 34 48 46 36C54 27 57 16 58 4" fill="none" stroke="#0000ff" stroke-width="14.5" stroke-linecap="round" stroke-linejoin="round"/><path d="M62 -14L38 6L68 20Z" fill="#0000ff" stroke="#0000ff" stroke-width="6.5" stroke-linejoin="round"/></g><text x="2426.5" y="1940.4" font-size="30.65" fill="#0000ff" stroke="#0000ff" stroke-width="0.45" letter-spacing="2.52">39</text><text x="1913.8" y="1979.7" font-size="30.65" stroke="#000" stroke-width="0.45" letter-spacing="1.49">Full</text><text x="2014.9" y="1979.7" font-size="30.65" stroke="#000" stroke-width="0.45" letter-spacing="0.53">Aug 7 2017</text><text x="2205.2" y="1979.7" font-size="30.65" stroke="#000" stroke-width="0.45" letter-spacing="0.88">2:10 pm</text><text x="2345.1" y="1979.7" font-size="30.65" fill="#00c0c0" stroke="#00c0c0" stroke-width="0.45" letter-spacing="1.66">15°</text><g transform="translate(2411.00 1968.65) scale(0.2310)"><path d="M-48 -8L-32 -26L-16 -8L0 -26L16 -8L32 -26L48 -8M-48 28L-32 10L-16 28L0 10L16 28L32 10L48 28" fill="none" stroke="#00c0c0" stroke-width="14.5" stroke-linecap="round" stroke-linejoin="round"/></g><text x="2426.2" y="1979.7" font-size="30.65" fill="#00c0c0" stroke="#00c0c0" stroke-width="0.45" letter-spacing="2.71">25</text><g transform="translate(2514.50 1967.75) scale(0.2300)"><path d="M-46.0 22.0a16.0 16.0 0 1 0 32.0 0a16.0 16.0 0 1 0 -32.0 0Z" fill="#000"/><path d="M14.0 -22.0a16.0 16.0 0 1 0 32.0 0a16.0 16.0 0 1 0 -32.0 0Z" fill="#000"/><path d="M-30 22L30 -22" fill="none" stroke="#000" stroke-width="14.5" stroke-linecap="round" stroke-linejoin="round"/></g><text x="1901.6" y="2017.2" font-size="30.65" stroke="#000" stroke-width="0.45" letter-spacing="0.62">3rd Q</text><text x="2005.5" y="2017.2" font-size="30.65" stroke="#000" stroke-width="0.45" letter-spacing="0.65">Aug 14 2017</text><text x="2205.3" y="2017.2" font-size="30.65" stroke="#000" stroke-width="0.45" letter-spacing="0.86">9:14 pm</text><text x="2345.9" y="2017.2" font-size="30.65" fill="#808000" stroke="#808000" stroke-width="0.45" letter-spacing="1.26">22°</text><g transform="translate(2411.00 2005.23) scale(0.2310)"><path d="M-29.0 17.0a29.0 29.0 0 1 0 58.0 0a29.0 29.0 0 1 0 -58.0 0Z" fill="none" stroke="#808000" stroke-width="14.5" stroke-linecap="round" stroke-linejoin="round"/><path d="M-33 -46C-28 -24 -13 -12 0 -12C13 -12 28 -24 33 -46" fill="none" stroke="#808000" stroke-width="14.5" stroke-linecap="round" stroke-linejoin="round"/></g><text x="2426.2" y="2017.2" font-size="30.65" fill="#808000" stroke="#808000" stroke-width="0.45" letter-spacing="2.71">25</text><text x="1907.5" y="2055.9" font-size="30.65" stroke="#000" stroke-width="0.45" letter-spacing="1.56">New</text><text x="2005.5" y="2055.9" font-size="30.65" stroke="#000" stroke-width="0.45" letter-spacing="0.65">Aug 21 2017</text><text x="2205.2" y="2055.9" font-size="30.65" stroke="#000" stroke-width="0.45" letter-spacing="0.88">2:30 pm</text><text x="2345.9" y="2055.9" font-size="30.65" fill="#ff0000" stroke="#ff0000" stroke-width="0.45" letter-spacing="1.26">28°</text><g transform="translate(2411.00 2044.21) scale(0.2495)"><path d="M-39.0 14.0a13.0 13.0 0 1 0 26.0 0a13.0 13.0 0 1 0 -26.0 0Z" fill="none" stroke="#ff0000" stroke-width="14.5" stroke-linecap="round" stroke-linejoin="round"/><path d="M-15 5C-36 -28 -10 -50 12 -44C34 -37 26 -5 19 16C11 40 18 62 40 52" fill="none" stroke="#ff0000" stroke-width="14.5" stroke-linecap="round" stroke-linejoin="round"/></g><text x="2426.5" y="2055.9" font-size="30.65" fill="#ff0000" stroke="#ff0000" stroke-width="0.45" letter-spacing="2.68">52</text><g transform="translate(2514.50 2044.00) scale(0.2300)"><path d="M-44.0 18.0a26.0 26.0 0 1 0 52.0 0a26.0 26.0 0 1 0 -52.0 0Z" fill="#000"/><path d="M-5 5L42 -40" fill="none" stroke="#000" stroke-width="14.5" stroke-linecap="round" stroke-linejoin="round"/></g>
</svg>
</body></html>
